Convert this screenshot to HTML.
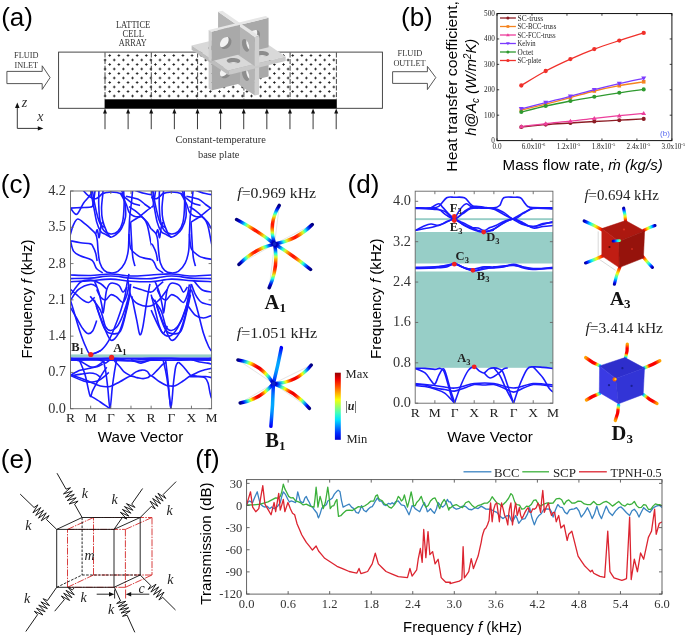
<!DOCTYPE html>
<html><head><meta charset="utf-8"><style>
html,body{margin:0;padding:0;background:#fff;}
body{width:685px;height:637px;overflow:hidden;}
svg{display:block;will-change:transform;}
</style></head><body>
<svg width="685" height="637" viewBox="0 0 685 637">
<rect width="685" height="637" fill="#fff"/>
<text x="1.20" y="25.60" font-family='"Liberation Sans", sans-serif' font-size="26" text-anchor="start" fill="#000" font-weight="normal" font-style="normal" >(a)</text><text x="26.30" y="58.20" font-family='"Liberation Serif", serif' font-size="9.0" text-anchor="middle" fill="#333" font-weight="normal" font-style="normal" textLength="24.4" lengthAdjust="spacingAndGlyphs">FLUID</text><text x="26.30" y="68.20" font-family='"Liberation Serif", serif' font-size="9.0" text-anchor="middle" fill="#333" font-weight="normal" font-style="normal" textLength="23.7" lengthAdjust="spacingAndGlyphs">INLET</text><path d="M6.9,71.4 L42.2,71.4 L42.2,65.8 L50.1,77.6 L42.2,89.4 L42.2,83.6 L6.9,83.6 Z" fill="#fff" stroke="#444" stroke-width="0.9" stroke-linejoin="miter"/><path d="M392.6,71.7 L427.4,71.7 L427.4,66.4 L435.8,77.6 L427.4,89.6 L427.4,83.4 L392.6,83.4 Z" fill="#fff" stroke="#444" stroke-width="0.9" stroke-linejoin="miter"/><text x="409.90" y="55.80" font-family='"Liberation Serif", serif' font-size="9.0" text-anchor="middle" fill="#333" font-weight="normal" font-style="normal" textLength="24.6" lengthAdjust="spacingAndGlyphs">FLUID</text><text x="409.50" y="65.60" font-family='"Liberation Serif", serif' font-size="9.0" text-anchor="middle" fill="#333" font-weight="normal" font-style="normal" textLength="32.2" lengthAdjust="spacingAndGlyphs">OUTLET</text><rect x="58.6" y="52.1" width="323.8" height="56.2" fill="#fff" stroke="#333" stroke-width="0.9"/><path d="M108.35,55.50h2.7M109.70,54.15v2.7M117.50,55.50h2.7M118.85,54.15v2.7M126.65,55.50h2.7M128.00,54.15v2.7M135.80,55.50h2.7M137.15,54.15v2.7M144.95,55.50h2.7M146.30,54.15v2.7M154.10,55.50h2.7M155.45,54.15v2.7M163.25,55.50h2.7M164.60,54.15v2.7M172.40,55.50h2.7M173.75,54.15v2.7M181.55,55.50h2.7M182.90,54.15v2.7M190.70,55.50h2.7M192.05,54.15v2.7M199.85,55.50h2.7M201.20,54.15v2.7M209.00,55.50h2.7M210.35,54.15v2.7M218.15,55.50h2.7M219.50,54.15v2.7M227.30,55.50h2.7M228.65,54.15v2.7M236.45,55.50h2.7M237.80,54.15v2.7M245.60,55.50h2.7M246.95,54.15v2.7M254.75,55.50h2.7M256.10,54.15v2.7M263.90,55.50h2.7M265.25,54.15v2.7M273.05,55.50h2.7M274.40,54.15v2.7M282.20,55.50h2.7M283.55,54.15v2.7M291.35,55.50h2.7M292.70,54.15v2.7M300.50,55.50h2.7M301.85,54.15v2.7M309.65,55.50h2.7M311.00,54.15v2.7M318.80,55.50h2.7M320.15,54.15v2.7M327.95,55.50h2.7M329.30,54.15v2.7M103.75,60.00h2.7M105.10,58.65v2.7M112.90,60.00h2.7M114.25,58.65v2.7M122.05,60.00h2.7M123.40,58.65v2.7M131.20,60.00h2.7M132.55,58.65v2.7M140.35,60.00h2.7M141.70,58.65v2.7M149.50,60.00h2.7M150.85,58.65v2.7M158.65,60.00h2.7M160.00,58.65v2.7M167.80,60.00h2.7M169.15,58.65v2.7M176.95,60.00h2.7M178.30,58.65v2.7M186.10,60.00h2.7M187.45,58.65v2.7M195.25,60.00h2.7M196.60,58.65v2.7M204.40,60.00h2.7M205.75,58.65v2.7M213.55,60.00h2.7M214.90,58.65v2.7M222.70,60.00h2.7M224.05,58.65v2.7M231.85,60.00h2.7M233.20,58.65v2.7M241.00,60.00h2.7M242.35,58.65v2.7M250.15,60.00h2.7M251.50,58.65v2.7M259.30,60.00h2.7M260.65,58.65v2.7M268.45,60.00h2.7M269.80,58.65v2.7M277.60,60.00h2.7M278.95,58.65v2.7M286.75,60.00h2.7M288.10,58.65v2.7M295.90,60.00h2.7M297.25,58.65v2.7M305.05,60.00h2.7M306.40,58.65v2.7M314.20,60.00h2.7M315.55,58.65v2.7M323.35,60.00h2.7M324.70,58.65v2.7M332.50,60.00h2.7M333.85,58.65v2.7M108.35,64.50h2.7M109.70,63.15v2.7M117.50,64.50h2.7M118.85,63.15v2.7M126.65,64.50h2.7M128.00,63.15v2.7M135.80,64.50h2.7M137.15,63.15v2.7M144.95,64.50h2.7M146.30,63.15v2.7M154.10,64.50h2.7M155.45,63.15v2.7M163.25,64.50h2.7M164.60,63.15v2.7M172.40,64.50h2.7M173.75,63.15v2.7M181.55,64.50h2.7M182.90,63.15v2.7M190.70,64.50h2.7M192.05,63.15v2.7M199.85,64.50h2.7M201.20,63.15v2.7M209.00,64.50h2.7M210.35,63.15v2.7M218.15,64.50h2.7M219.50,63.15v2.7M227.30,64.50h2.7M228.65,63.15v2.7M236.45,64.50h2.7M237.80,63.15v2.7M245.60,64.50h2.7M246.95,63.15v2.7M254.75,64.50h2.7M256.10,63.15v2.7M263.90,64.50h2.7M265.25,63.15v2.7M273.05,64.50h2.7M274.40,63.15v2.7M282.20,64.50h2.7M283.55,63.15v2.7M291.35,64.50h2.7M292.70,63.15v2.7M300.50,64.50h2.7M301.85,63.15v2.7M309.65,64.50h2.7M311.00,63.15v2.7M318.80,64.50h2.7M320.15,63.15v2.7M327.95,64.50h2.7M329.30,63.15v2.7M103.75,69.00h2.7M105.10,67.65v2.7M112.90,69.00h2.7M114.25,67.65v2.7M122.05,69.00h2.7M123.40,67.65v2.7M131.20,69.00h2.7M132.55,67.65v2.7M140.35,69.00h2.7M141.70,67.65v2.7M149.50,69.00h2.7M150.85,67.65v2.7M158.65,69.00h2.7M160.00,67.65v2.7M167.80,69.00h2.7M169.15,67.65v2.7M176.95,69.00h2.7M178.30,67.65v2.7M186.10,69.00h2.7M187.45,67.65v2.7M195.25,69.00h2.7M196.60,67.65v2.7M204.40,69.00h2.7M205.75,67.65v2.7M213.55,69.00h2.7M214.90,67.65v2.7M222.70,69.00h2.7M224.05,67.65v2.7M231.85,69.00h2.7M233.20,67.65v2.7M241.00,69.00h2.7M242.35,67.65v2.7M250.15,69.00h2.7M251.50,67.65v2.7M259.30,69.00h2.7M260.65,67.65v2.7M268.45,69.00h2.7M269.80,67.65v2.7M277.60,69.00h2.7M278.95,67.65v2.7M286.75,69.00h2.7M288.10,67.65v2.7M295.90,69.00h2.7M297.25,67.65v2.7M305.05,69.00h2.7M306.40,67.65v2.7M314.20,69.00h2.7M315.55,67.65v2.7M323.35,69.00h2.7M324.70,67.65v2.7M332.50,69.00h2.7M333.85,67.65v2.7M108.35,73.50h2.7M109.70,72.15v2.7M117.50,73.50h2.7M118.85,72.15v2.7M126.65,73.50h2.7M128.00,72.15v2.7M135.80,73.50h2.7M137.15,72.15v2.7M144.95,73.50h2.7M146.30,72.15v2.7M154.10,73.50h2.7M155.45,72.15v2.7M163.25,73.50h2.7M164.60,72.15v2.7M172.40,73.50h2.7M173.75,72.15v2.7M181.55,73.50h2.7M182.90,72.15v2.7M190.70,73.50h2.7M192.05,72.15v2.7M199.85,73.50h2.7M201.20,72.15v2.7M209.00,73.50h2.7M210.35,72.15v2.7M218.15,73.50h2.7M219.50,72.15v2.7M227.30,73.50h2.7M228.65,72.15v2.7M236.45,73.50h2.7M237.80,72.15v2.7M245.60,73.50h2.7M246.95,72.15v2.7M254.75,73.50h2.7M256.10,72.15v2.7M263.90,73.50h2.7M265.25,72.15v2.7M273.05,73.50h2.7M274.40,72.15v2.7M282.20,73.50h2.7M283.55,72.15v2.7M291.35,73.50h2.7M292.70,72.15v2.7M300.50,73.50h2.7M301.85,72.15v2.7M309.65,73.50h2.7M311.00,72.15v2.7M318.80,73.50h2.7M320.15,72.15v2.7M327.95,73.50h2.7M329.30,72.15v2.7M103.75,78.00h2.7M105.10,76.65v2.7M112.90,78.00h2.7M114.25,76.65v2.7M122.05,78.00h2.7M123.40,76.65v2.7M131.20,78.00h2.7M132.55,76.65v2.7M140.35,78.00h2.7M141.70,76.65v2.7M149.50,78.00h2.7M150.85,76.65v2.7M158.65,78.00h2.7M160.00,76.65v2.7M167.80,78.00h2.7M169.15,76.65v2.7M176.95,78.00h2.7M178.30,76.65v2.7M186.10,78.00h2.7M187.45,76.65v2.7M195.25,78.00h2.7M196.60,76.65v2.7M204.40,78.00h2.7M205.75,76.65v2.7M213.55,78.00h2.7M214.90,76.65v2.7M222.70,78.00h2.7M224.05,76.65v2.7M231.85,78.00h2.7M233.20,76.65v2.7M241.00,78.00h2.7M242.35,76.65v2.7M250.15,78.00h2.7M251.50,76.65v2.7M259.30,78.00h2.7M260.65,76.65v2.7M268.45,78.00h2.7M269.80,76.65v2.7M277.60,78.00h2.7M278.95,76.65v2.7M286.75,78.00h2.7M288.10,76.65v2.7M295.90,78.00h2.7M297.25,76.65v2.7M305.05,78.00h2.7M306.40,76.65v2.7M314.20,78.00h2.7M315.55,76.65v2.7M323.35,78.00h2.7M324.70,76.65v2.7M332.50,78.00h2.7M333.85,76.65v2.7M108.35,82.50h2.7M109.70,81.15v2.7M117.50,82.50h2.7M118.85,81.15v2.7M126.65,82.50h2.7M128.00,81.15v2.7M135.80,82.50h2.7M137.15,81.15v2.7M144.95,82.50h2.7M146.30,81.15v2.7M154.10,82.50h2.7M155.45,81.15v2.7M163.25,82.50h2.7M164.60,81.15v2.7M172.40,82.50h2.7M173.75,81.15v2.7M181.55,82.50h2.7M182.90,81.15v2.7M190.70,82.50h2.7M192.05,81.15v2.7M199.85,82.50h2.7M201.20,81.15v2.7M209.00,82.50h2.7M210.35,81.15v2.7M218.15,82.50h2.7M219.50,81.15v2.7M227.30,82.50h2.7M228.65,81.15v2.7M236.45,82.50h2.7M237.80,81.15v2.7M245.60,82.50h2.7M246.95,81.15v2.7M254.75,82.50h2.7M256.10,81.15v2.7M263.90,82.50h2.7M265.25,81.15v2.7M273.05,82.50h2.7M274.40,81.15v2.7M282.20,82.50h2.7M283.55,81.15v2.7M291.35,82.50h2.7M292.70,81.15v2.7M300.50,82.50h2.7M301.85,81.15v2.7M309.65,82.50h2.7M311.00,81.15v2.7M318.80,82.50h2.7M320.15,81.15v2.7M327.95,82.50h2.7M329.30,81.15v2.7M103.75,87.00h2.7M105.10,85.65v2.7M112.90,87.00h2.7M114.25,85.65v2.7M122.05,87.00h2.7M123.40,85.65v2.7M131.20,87.00h2.7M132.55,85.65v2.7M140.35,87.00h2.7M141.70,85.65v2.7M149.50,87.00h2.7M150.85,85.65v2.7M158.65,87.00h2.7M160.00,85.65v2.7M167.80,87.00h2.7M169.15,85.65v2.7M176.95,87.00h2.7M178.30,85.65v2.7M186.10,87.00h2.7M187.45,85.65v2.7M195.25,87.00h2.7M196.60,85.65v2.7M204.40,87.00h2.7M205.75,85.65v2.7M213.55,87.00h2.7M214.90,85.65v2.7M222.70,87.00h2.7M224.05,85.65v2.7M231.85,87.00h2.7M233.20,85.65v2.7M241.00,87.00h2.7M242.35,85.65v2.7M250.15,87.00h2.7M251.50,85.65v2.7M259.30,87.00h2.7M260.65,85.65v2.7M268.45,87.00h2.7M269.80,85.65v2.7M277.60,87.00h2.7M278.95,85.65v2.7M286.75,87.00h2.7M288.10,85.65v2.7M295.90,87.00h2.7M297.25,85.65v2.7M305.05,87.00h2.7M306.40,85.65v2.7M314.20,87.00h2.7M315.55,85.65v2.7M323.35,87.00h2.7M324.70,85.65v2.7M332.50,87.00h2.7M333.85,85.65v2.7M108.35,91.50h2.7M109.70,90.15v2.7M117.50,91.50h2.7M118.85,90.15v2.7M126.65,91.50h2.7M128.00,90.15v2.7M135.80,91.50h2.7M137.15,90.15v2.7M144.95,91.50h2.7M146.30,90.15v2.7M154.10,91.50h2.7M155.45,90.15v2.7M163.25,91.50h2.7M164.60,90.15v2.7M172.40,91.50h2.7M173.75,90.15v2.7M181.55,91.50h2.7M182.90,90.15v2.7M190.70,91.50h2.7M192.05,90.15v2.7M199.85,91.50h2.7M201.20,90.15v2.7M209.00,91.50h2.7M210.35,90.15v2.7M218.15,91.50h2.7M219.50,90.15v2.7M227.30,91.50h2.7M228.65,90.15v2.7M236.45,91.50h2.7M237.80,90.15v2.7M245.60,91.50h2.7M246.95,90.15v2.7M254.75,91.50h2.7M256.10,90.15v2.7M263.90,91.50h2.7M265.25,90.15v2.7M273.05,91.50h2.7M274.40,90.15v2.7M282.20,91.50h2.7M283.55,90.15v2.7M291.35,91.50h2.7M292.70,90.15v2.7M300.50,91.50h2.7M301.85,90.15v2.7M309.65,91.50h2.7M311.00,90.15v2.7M318.80,91.50h2.7M320.15,90.15v2.7M327.95,91.50h2.7M329.30,90.15v2.7M103.75,96.00h2.7M105.10,94.65v2.7M112.90,96.00h2.7M114.25,94.65v2.7M122.05,96.00h2.7M123.40,94.65v2.7M131.20,96.00h2.7M132.55,94.65v2.7M140.35,96.00h2.7M141.70,94.65v2.7M149.50,96.00h2.7M150.85,94.65v2.7M158.65,96.00h2.7M160.00,94.65v2.7M167.80,96.00h2.7M169.15,94.65v2.7M176.95,96.00h2.7M178.30,94.65v2.7M186.10,96.00h2.7M187.45,94.65v2.7M195.25,96.00h2.7M196.60,94.65v2.7M204.40,96.00h2.7M205.75,94.65v2.7M213.55,96.00h2.7M214.90,94.65v2.7M222.70,96.00h2.7M224.05,94.65v2.7M231.85,96.00h2.7M233.20,94.65v2.7M241.00,96.00h2.7M242.35,94.65v2.7M250.15,96.00h2.7M251.50,94.65v2.7M259.30,96.00h2.7M260.65,94.65v2.7M268.45,96.00h2.7M269.80,94.65v2.7M277.60,96.00h2.7M278.95,94.65v2.7M286.75,96.00h2.7M288.10,94.65v2.7M295.90,96.00h2.7M297.25,94.65v2.7M305.05,96.00h2.7M306.40,94.65v2.7M314.20,96.00h2.7M315.55,94.65v2.7M323.35,96.00h2.7M324.70,94.65v2.7M332.50,96.00h2.7M333.85,94.65v2.7" stroke="#111" stroke-width="0.8" fill="none"/><line x1="105.0" y1="52.5" x2="105.0" y2="99.3" stroke="#333" stroke-width="0.9" stroke-dasharray="5,1.6"/><line x1="151.3" y1="52.5" x2="151.3" y2="99.3" stroke="#333" stroke-width="0.9" stroke-dasharray="5,1.6"/><line x1="197.6" y1="52.5" x2="197.6" y2="99.3" stroke="#333" stroke-width="0.9" stroke-dasharray="5,1.6"/><line x1="243.9" y1="52.5" x2="243.9" y2="99.3" stroke="#333" stroke-width="0.9" stroke-dasharray="5,1.6"/><line x1="290.1" y1="52.5" x2="290.1" y2="99.3" stroke="#333" stroke-width="0.9" stroke-dasharray="5,1.6"/><line x1="336.4" y1="52.5" x2="336.4" y2="99.3" stroke="#333" stroke-width="0.9" stroke-dasharray="5,1.6"/><rect x="104.6" y="99.3" width="232.2" height="9.0" fill="#000"/><line x1="105.00" y1="129.2" x2="105.00" y2="112" stroke="#222" stroke-width="0.9"/><path d="M103.00,113.6 L105.00,108.4 L107.00,113.6 Z" fill="#111"/><line x1="128.12" y1="129.2" x2="128.12" y2="112" stroke="#222" stroke-width="0.9"/><path d="M126.12,113.6 L128.12,108.4 L130.12,113.6 Z" fill="#111"/><line x1="151.24" y1="129.2" x2="151.24" y2="112" stroke="#222" stroke-width="0.9"/><path d="M149.24,113.6 L151.24,108.4 L153.24,113.6 Z" fill="#111"/><line x1="174.36" y1="129.2" x2="174.36" y2="112" stroke="#222" stroke-width="0.9"/><path d="M172.36,113.6 L174.36,108.4 L176.36,113.6 Z" fill="#111"/><line x1="197.48" y1="129.2" x2="197.48" y2="112" stroke="#222" stroke-width="0.9"/><path d="M195.48,113.6 L197.48,108.4 L199.48,113.6 Z" fill="#111"/><line x1="220.60" y1="129.2" x2="220.60" y2="112" stroke="#222" stroke-width="0.9"/><path d="M218.60,113.6 L220.60,108.4 L222.60,113.6 Z" fill="#111"/><line x1="243.72" y1="129.2" x2="243.72" y2="112" stroke="#222" stroke-width="0.9"/><path d="M241.72,113.6 L243.72,108.4 L245.72,113.6 Z" fill="#111"/><line x1="266.84" y1="129.2" x2="266.84" y2="112" stroke="#222" stroke-width="0.9"/><path d="M264.84,113.6 L266.84,108.4 L268.84,113.6 Z" fill="#111"/><line x1="289.96" y1="129.2" x2="289.96" y2="112" stroke="#222" stroke-width="0.9"/><path d="M287.96,113.6 L289.96,108.4 L291.96,113.6 Z" fill="#111"/><line x1="313.08" y1="129.2" x2="313.08" y2="112" stroke="#222" stroke-width="0.9"/><path d="M311.08,113.6 L313.08,108.4 L315.08,113.6 Z" fill="#111"/><line x1="336.20" y1="129.2" x2="336.20" y2="112" stroke="#222" stroke-width="0.9"/><path d="M334.20,113.6 L336.20,108.4 L338.20,113.6 Z" fill="#111"/><text x="220.60" y="143.00" font-family='"Liberation Serif", serif' font-size="10.9" text-anchor="middle" fill="#333" font-weight="normal" font-style="normal" textLength="90.4" lengthAdjust="spacingAndGlyphs">Constant-temperature</text><text x="218.70" y="157.50" font-family='"Liberation Serif", serif' font-size="10.9" text-anchor="middle" fill="#333" font-weight="normal" font-style="normal" textLength="41.5" lengthAdjust="spacingAndGlyphs">base plate</text><text x="133.10" y="28.20" font-family='"Liberation Serif", serif' font-size="9.4" text-anchor="middle" fill="#333" font-weight="normal" font-style="normal" textLength="34.4" lengthAdjust="spacingAndGlyphs">LATTICE</text><text x="133.30" y="37.00" font-family='"Liberation Serif", serif' font-size="9.4" text-anchor="middle" fill="#333" font-weight="normal" font-style="normal" textLength="21.4" lengthAdjust="spacingAndGlyphs">CELL</text><text x="132.80" y="46.00" font-family='"Liberation Serif", serif' font-size="9.4" text-anchor="middle" fill="#333" font-weight="normal" font-style="normal" textLength="28" lengthAdjust="spacingAndGlyphs">ARRAY</text><line x1="17.3" y1="128.4" x2="17.3" y2="105.5" stroke="#222" stroke-width="0.9"/><path d="M15.0,108.0 L17.3,102.6 L19.6,108.0 Z" fill="#111"/><line x1="17.3" y1="128.4" x2="40.5" y2="128.4" stroke="#222" stroke-width="0.9"/><path d="M37.8,126.2 L43.4,128.4 L37.8,130.6 Z" fill="#111"/><text x="21.80" y="107.40" font-family='"Liberation Serif", serif' font-size="14" text-anchor="start" fill="#333" font-weight="normal" font-style="italic" >z</text><text x="37.20" y="121.10" font-family='"Liberation Serif", serif' font-size="14" text-anchor="start" fill="#333" font-weight="normal" font-style="italic" >x</text><g><path d="M239.98,54.15 L268.58,47.15 L268.58,76.45 L239.98,83.45 Z" fill="#a9a9a9" stroke="none" stroke-width="0.3" stroke-linejoin="round"/><path d="M260.00,63.90 L259.86,62.63 L259.43,61.49 L258.75,60.55 L257.85,59.84 L256.76,59.41 L255.55,59.27 L254.28,59.44 L253.01,59.89 L251.80,60.62 L250.71,61.59 L249.81,62.74 L249.13,64.01 L248.70,65.36 L248.56,66.70 L248.70,67.96 L249.13,69.10 L249.81,70.04 L250.71,70.75 L251.80,71.18 L253.01,71.32 L254.28,71.16 L255.55,70.70 L256.76,69.97 L257.85,69.00 L258.75,67.85 L259.43,66.58 L259.86,65.23 Z" fill="#8a8a8a" stroke="none" stroke-width="0.3" stroke-linejoin="round"/><clipPath id="h52"><path d="M260.00,63.90 L259.86,62.63 L259.43,61.49 L258.75,60.55 L257.85,59.84 L256.76,59.41 L255.55,59.27 L254.28,59.44 L253.01,59.89 L251.80,60.62 L250.71,61.59 L249.81,62.74 L249.13,64.01 L248.70,65.36 L248.56,66.70 L248.70,67.96 L249.13,69.10 L249.81,70.04 L250.71,70.75 L251.80,71.18 L253.01,71.32 L254.28,71.16 L255.55,70.70 L256.76,69.97 L257.85,69.00 L258.75,67.85 L259.43,66.58 L259.86,65.23 Z"/></clipPath><path d="M257.24,62.01 L257.10,60.74 L256.67,59.60 L255.99,58.66 L255.09,57.95 L254.00,57.52 L252.79,57.38 L251.52,57.55 L250.25,58.00 L249.04,58.73 L247.95,59.70 L247.05,60.85 L246.37,62.12 L245.94,63.47 L245.80,64.81 L245.94,66.07 L246.37,67.21 L247.05,68.15 L247.95,68.86 L249.04,69.29 L250.25,69.43 L251.52,69.27 L252.79,68.81 L254.00,68.08 L255.09,67.11 L255.99,65.96 L256.67,64.69 L257.10,63.34 Z" fill="#f2f2f2" clip-path="url(#h52)"/><path d="M236.45,53.73 L218.05,41.12 L218.05,70.42 L236.45,83.03 Z" fill="#b4b4b4" stroke="none" stroke-width="0.3" stroke-linejoin="round"/><path d="M230.93,64.59 L230.84,63.23 L230.57,61.80 L230.13,60.39 L229.55,59.06 L228.85,57.89 L228.07,56.92 L227.25,56.22 L226.44,55.80 L225.66,55.70 L224.96,55.92 L224.38,56.45 L223.94,57.26 L223.67,58.31 L223.57,59.55 L223.67,60.92 L223.94,62.35 L224.38,63.76 L224.96,65.09 L225.66,66.26 L226.44,67.23 L227.25,67.94 L228.07,68.35 L228.85,68.45 L229.55,68.23 L230.13,67.70 L230.57,66.89 L230.84,65.84 Z" fill="#8e8e8e" stroke="none" stroke-width="0.3" stroke-linejoin="round"/><clipPath id="h56"><path d="M230.93,64.59 L230.84,63.23 L230.57,61.80 L230.13,60.39 L229.55,59.06 L228.85,57.89 L228.07,56.92 L227.25,56.22 L226.44,55.80 L225.66,55.70 L224.96,55.92 L224.38,56.45 L223.94,57.26 L223.67,58.31 L223.57,59.55 L223.67,60.92 L223.94,62.35 L224.38,63.76 L224.96,65.09 L225.66,66.26 L226.44,67.23 L227.25,67.94 L228.07,68.35 L228.85,68.45 L229.55,68.23 L230.13,67.70 L230.57,66.89 L230.84,65.84 Z"/></clipPath><path d="M235.22,63.55 L235.13,62.18 L234.86,60.75 L234.42,59.34 L233.84,58.01 L233.14,56.84 L232.36,55.87 L231.55,55.17 L230.73,54.75 L229.95,54.65 L229.25,54.87 L228.67,55.40 L228.23,56.21 L227.96,57.26 L227.87,58.51 L227.96,59.87 L228.23,61.30 L228.67,62.71 L229.25,64.04 L229.95,65.21 L230.73,66.18 L231.55,66.89 L232.36,67.30 L233.14,67.40 L233.84,67.18 L234.42,66.65 L234.86,65.84 L235.13,64.79 Z" fill="#f2f2f2" clip-path="url(#h56)"/><path d="M236.45,53.73 L254.85,66.33 L254.85,95.62 L236.45,83.03 Z" fill="#b4b4b4" stroke="none" stroke-width="0.3" stroke-linejoin="round"/><path d="M254.85,66.33 L259.14,65.28 L259.14,94.58 L254.85,95.62 Z" fill="#cfcfcf" stroke="none" stroke-width="0.3" stroke-linejoin="round"/><path d="M249.33,77.20 L249.24,75.83 L248.97,74.40 L248.53,72.99 L247.95,71.66 L247.25,70.49 L246.47,69.52 L245.65,68.81 L244.84,68.40 L244.06,68.30 L243.36,68.52 L242.78,69.05 L242.34,69.86 L242.07,70.91 L241.97,72.16 L242.07,73.52 L242.34,74.95 L242.78,76.36 L243.36,77.69 L244.06,78.86 L244.84,79.83 L245.65,80.53 L246.47,80.95 L247.25,81.05 L247.95,80.83 L248.53,80.30 L248.97,79.49 L249.24,78.44 Z" fill="#8e8e8e" stroke="none" stroke-width="0.3" stroke-linejoin="round"/><clipPath id="h61"><path d="M249.33,77.20 L249.24,75.83 L248.97,74.40 L248.53,72.99 L247.95,71.66 L247.25,70.49 L246.47,69.52 L245.65,68.81 L244.84,68.40 L244.06,68.30 L243.36,68.52 L242.78,69.05 L242.34,69.86 L242.07,70.91 L241.97,72.16 L242.07,73.52 L242.34,74.95 L242.78,76.36 L243.36,77.69 L244.06,78.86 L244.84,79.83 L245.65,80.53 L246.47,80.95 L247.25,81.05 L247.95,80.83 L248.53,80.30 L248.97,79.49 L249.24,78.44 Z"/></clipPath><path d="M253.62,76.15 L253.53,74.78 L253.26,73.35 L252.82,71.94 L252.24,70.61 L251.54,69.44 L250.76,68.47 L249.94,67.77 L249.13,67.35 L248.35,67.25 L247.65,67.47 L247.07,68.00 L246.63,68.81 L246.36,69.86 L246.27,71.11 L246.36,72.47 L246.63,73.90 L247.07,75.31 L247.65,76.64 L248.35,77.81 L249.13,78.78 L249.94,79.48 L250.76,79.90 L251.54,80.00 L252.24,79.78 L252.82,79.25 L253.26,78.44 L253.53,77.39 Z" fill="#f2f2f2" clip-path="url(#h61)"/><path d="M239.98,54.15 L211.38,61.15 L211.38,90.45 L239.98,83.45 Z" fill="#a9a9a9" stroke="none" stroke-width="0.3" stroke-linejoin="round"/><path d="M208.62,59.26 L211.38,61.15 L211.38,90.45 L208.62,88.56 Z" fill="#cfcfcf" stroke="none" stroke-width="0.3" stroke-linejoin="round"/><path d="M231.40,70.90 L231.26,69.63 L230.83,68.49 L230.15,67.55 L229.25,66.84 L228.16,66.41 L226.95,66.27 L225.68,66.44 L224.41,66.89 L223.20,67.62 L222.11,68.59 L221.21,69.74 L220.53,71.01 L220.10,72.36 L219.96,73.70 L220.10,74.96 L220.53,76.10 L221.21,77.04 L222.11,77.75 L223.20,78.18 L224.41,78.32 L225.68,78.16 L226.95,77.70 L228.16,76.97 L229.25,76.00 L230.15,74.85 L230.83,73.58 L231.26,72.23 Z" fill="#8a8a8a" stroke="none" stroke-width="0.3" stroke-linejoin="round"/><clipPath id="h66"><path d="M231.40,70.90 L231.26,69.63 L230.83,68.49 L230.15,67.55 L229.25,66.84 L228.16,66.41 L226.95,66.27 L225.68,66.44 L224.41,66.89 L223.20,67.62 L222.11,68.59 L221.21,69.74 L220.53,71.01 L220.10,72.36 L219.96,73.70 L220.10,74.96 L220.53,76.10 L221.21,77.04 L222.11,77.75 L223.20,78.18 L224.41,78.32 L225.68,78.16 L226.95,77.70 L228.16,76.97 L229.25,76.00 L230.15,74.85 L230.83,73.58 L231.26,72.23 Z"/></clipPath><path d="M228.64,69.01 L228.50,67.74 L228.07,66.60 L227.39,65.66 L226.49,64.95 L225.40,64.52 L224.19,64.38 L222.92,64.55 L221.65,65.00 L220.44,65.73 L219.35,66.70 L218.45,67.85 L217.77,69.12 L217.34,70.47 L217.20,71.81 L217.34,73.07 L217.77,74.21 L218.45,75.15 L219.35,75.86 L220.44,76.29 L221.65,76.43 L222.92,76.27 L224.19,75.81 L225.40,75.08 L226.49,74.11 L227.39,72.96 L228.07,71.69 L228.50,70.34 Z" fill="#f2f2f2" clip-path="url(#h66)"/><path d="M238.60,51.00 L267.20,44.00 L248.80,31.40 L220.20,38.40 Z" fill="#d9d9d9" stroke="none" stroke-width="0.3" stroke-linejoin="round"/><path d="M249.42,39.80 L250.10,40.40 L250.45,41.03 L250.47,41.68 L250.14,42.30 L249.50,42.87 L248.56,43.35 L247.38,43.72 L246.01,43.97 L244.53,44.08 L243.01,44.05 L241.52,43.87 L240.14,43.56 L238.94,43.13 L237.98,42.60 L237.30,42.01 L236.95,41.37 L236.93,40.73 L237.26,40.11 L237.90,39.54 L238.84,39.06 L240.02,38.68 L241.39,38.43 L242.87,38.32 L244.39,38.36 L245.88,38.54 L247.26,38.85 L248.46,39.28 Z" fill="#8c8c8c" stroke="none" stroke-width="0.3" stroke-linejoin="round"/><clipPath id="h70"><path d="M249.42,39.80 L250.10,40.40 L250.45,41.03 L250.47,41.68 L250.14,42.30 L249.50,42.87 L248.56,43.35 L247.38,43.72 L246.01,43.97 L244.53,44.08 L243.01,44.05 L241.52,43.87 L240.14,43.56 L238.94,43.13 L237.98,42.60 L237.30,42.01 L236.95,41.37 L236.93,40.73 L237.26,40.11 L237.90,39.54 L238.84,39.06 L240.02,38.68 L241.39,38.43 L242.87,38.32 L244.39,38.36 L245.88,38.54 L247.26,38.85 L248.46,39.28 Z"/></clipPath><path d="M249.42,44.20 L250.10,44.79 L250.45,45.43 L250.47,46.07 L250.14,46.69 L249.50,47.26 L248.56,47.74 L247.38,48.12 L246.01,48.37 L244.53,48.48 L243.01,48.44 L241.52,48.26 L240.14,47.95 L238.94,47.52 L237.98,47.00 L237.30,46.40 L236.95,45.77 L236.93,45.12 L237.26,44.50 L237.90,43.93 L238.84,43.45 L240.02,43.08 L241.39,42.83 L242.87,42.72 L244.39,42.75 L245.88,42.93 L247.26,43.24 L248.46,43.67 Z" fill="#f2f2f2" clip-path="url(#h70)"/><path d="M238.60,51.00 L267.20,44.00 L285.60,56.60 L257.00,63.60 Z" fill="#d9d9d9" stroke="none" stroke-width="0.3" stroke-linejoin="round"/><path d="M257.00,63.60 L285.60,56.60 L285.60,61.00 L257.00,68.00 Z" fill="#c9c9c9" stroke="none" stroke-width="0.3" stroke-linejoin="round"/><path d="M267.82,52.40 L268.50,53.00 L268.85,53.63 L268.87,54.28 L268.54,54.90 L267.90,55.47 L266.96,55.95 L265.78,56.32 L264.41,56.57 L262.93,56.68 L261.41,56.65 L259.92,56.47 L258.54,56.16 L257.34,55.73 L256.38,55.20 L255.70,54.61 L255.35,53.97 L255.33,53.33 L255.66,52.71 L256.30,52.14 L257.24,51.66 L258.42,51.28 L259.79,51.03 L261.27,50.92 L262.79,50.96 L264.28,51.14 L265.66,51.45 L266.86,51.88 Z" fill="#8c8c8c" stroke="none" stroke-width="0.3" stroke-linejoin="round"/><clipPath id="h75"><path d="M267.82,52.40 L268.50,53.00 L268.85,53.63 L268.87,54.28 L268.54,54.90 L267.90,55.47 L266.96,55.95 L265.78,56.32 L264.41,56.57 L262.93,56.68 L261.41,56.65 L259.92,56.47 L258.54,56.16 L257.34,55.73 L256.38,55.20 L255.70,54.61 L255.35,53.97 L255.33,53.33 L255.66,52.71 L256.30,52.14 L257.24,51.66 L258.42,51.28 L259.79,51.03 L261.27,50.92 L262.79,50.96 L264.28,51.14 L265.66,51.45 L266.86,51.88 Z"/></clipPath><path d="M267.82,56.80 L268.50,57.39 L268.85,58.03 L268.87,58.67 L268.54,59.29 L267.90,59.86 L266.96,60.34 L265.78,60.72 L264.41,60.97 L262.93,61.08 L261.41,61.04 L259.92,60.86 L258.54,60.55 L257.34,60.12 L256.38,59.60 L255.70,59.00 L255.35,58.37 L255.33,57.72 L255.66,57.10 L256.30,56.53 L257.24,56.05 L258.42,55.68 L259.79,55.43 L261.27,55.32 L262.79,55.35 L264.28,55.53 L265.66,55.84 L266.86,56.27 Z" fill="#f2f2f2" clip-path="url(#h75)"/><path d="M238.60,51.00 L210.00,58.00 L191.60,45.40 L220.20,38.40 Z" fill="#d9d9d9" stroke="none" stroke-width="0.3" stroke-linejoin="round"/><path d="M210.00,58.00 L191.60,45.40 L191.60,49.80 L210.00,62.40 Z" fill="#bdbdbd" stroke="none" stroke-width="0.3" stroke-linejoin="round"/><path d="M220.82,46.80 L221.50,47.40 L221.85,48.03 L221.87,48.68 L221.54,49.30 L220.90,49.87 L219.96,50.35 L218.78,50.72 L217.41,50.97 L215.93,51.08 L214.41,51.05 L212.92,50.87 L211.54,50.56 L210.34,50.13 L209.38,49.60 L208.70,49.01 L208.35,48.37 L208.33,47.73 L208.66,47.11 L209.30,46.54 L210.24,46.06 L211.42,45.68 L212.79,45.43 L214.27,45.32 L215.79,45.36 L217.28,45.54 L218.66,45.85 L219.86,46.28 Z" fill="#8c8c8c" stroke="none" stroke-width="0.3" stroke-linejoin="round"/><clipPath id="h80"><path d="M220.82,46.80 L221.50,47.40 L221.85,48.03 L221.87,48.68 L221.54,49.30 L220.90,49.87 L219.96,50.35 L218.78,50.72 L217.41,50.97 L215.93,51.08 L214.41,51.05 L212.92,50.87 L211.54,50.56 L210.34,50.13 L209.38,49.60 L208.70,49.01 L208.35,48.37 L208.33,47.73 L208.66,47.11 L209.30,46.54 L210.24,46.06 L211.42,45.68 L212.79,45.43 L214.27,45.32 L215.79,45.36 L217.28,45.54 L218.66,45.85 L219.86,46.28 Z"/></clipPath><path d="M220.82,51.20 L221.50,51.79 L221.85,52.43 L221.87,53.07 L221.54,53.69 L220.90,54.26 L219.96,54.74 L218.78,55.12 L217.41,55.37 L215.93,55.48 L214.41,55.44 L212.92,55.26 L211.54,54.95 L210.34,54.52 L209.38,54.00 L208.70,53.40 L208.35,52.77 L208.33,52.12 L208.66,51.50 L209.30,50.93 L210.24,50.45 L211.42,50.08 L212.79,49.83 L214.27,49.72 L215.79,49.75 L217.28,49.93 L218.66,50.24 L219.86,50.67 Z" fill="#f2f2f2" clip-path="url(#h80)"/><path d="M238.60,51.00 L210.00,58.00 L228.40,70.60 L257.00,63.60 Z" fill="#d9d9d9" stroke="none" stroke-width="0.3" stroke-linejoin="round"/><path d="M210.00,58.00 L228.40,70.60 L228.40,75.00 L210.00,62.40 Z" fill="#bdbdbd" stroke="none" stroke-width="0.3" stroke-linejoin="round"/><path d="M257.00,63.60 L228.40,70.60 L228.40,75.00 L257.00,68.00 Z" fill="#c9c9c9" stroke="none" stroke-width="0.3" stroke-linejoin="round"/><path d="M239.22,59.40 L239.90,60.00 L240.25,60.63 L240.27,61.28 L239.94,61.90 L239.30,62.47 L238.36,62.95 L237.18,63.32 L235.81,63.57 L234.33,63.68 L232.81,63.65 L231.32,63.47 L229.94,63.16 L228.74,62.73 L227.78,62.20 L227.10,61.61 L226.75,60.97 L226.73,60.33 L227.06,59.71 L227.70,59.14 L228.64,58.66 L229.82,58.28 L231.19,58.03 L232.67,57.92 L234.19,57.96 L235.68,58.14 L237.06,58.45 L238.26,58.88 Z" fill="#8c8c8c" stroke="none" stroke-width="0.3" stroke-linejoin="round"/><clipPath id="h86"><path d="M239.22,59.40 L239.90,60.00 L240.25,60.63 L240.27,61.28 L239.94,61.90 L239.30,62.47 L238.36,62.95 L237.18,63.32 L235.81,63.57 L234.33,63.68 L232.81,63.65 L231.32,63.47 L229.94,63.16 L228.74,62.73 L227.78,62.20 L227.10,61.61 L226.75,60.97 L226.73,60.33 L227.06,59.71 L227.70,59.14 L228.64,58.66 L229.82,58.28 L231.19,58.03 L232.67,57.92 L234.19,57.96 L235.68,58.14 L237.06,58.45 L238.26,58.88 Z"/></clipPath><path d="M239.22,63.80 L239.90,64.39 L240.25,65.03 L240.27,65.67 L239.94,66.29 L239.30,66.86 L238.36,67.34 L237.18,67.72 L235.81,67.97 L234.33,68.08 L232.81,68.04 L231.32,67.86 L229.94,67.55 L228.74,67.12 L227.78,66.60 L227.10,66.00 L226.75,65.37 L226.73,64.72 L227.06,64.10 L227.70,63.53 L228.64,63.05 L229.82,62.68 L231.19,62.43 L232.67,62.32 L234.19,62.35 L235.68,62.53 L237.06,62.84 L238.26,63.27 Z" fill="#f2f2f2" clip-path="url(#h86)"/><path d="M239.98,54.15 L268.58,47.15 L268.58,17.85 L239.98,24.85 Z" fill="#a9a9a9" stroke="none" stroke-width="0.3" stroke-linejoin="round"/><path d="M237.22,22.96 L265.82,15.96 L268.58,17.85 L239.98,24.85 Z" fill="#e6e6e6" stroke="none" stroke-width="0.3" stroke-linejoin="round"/><path d="M260.00,34.60 L259.86,33.33 L259.43,32.19 L258.75,31.25 L257.85,30.54 L256.76,30.11 L255.55,29.97 L254.28,30.14 L253.01,30.59 L251.80,31.32 L250.71,32.29 L249.81,33.44 L249.13,34.71 L248.70,36.06 L248.56,37.40 L248.70,38.66 L249.13,39.80 L249.81,40.74 L250.71,41.45 L251.80,41.88 L253.01,42.02 L254.28,41.86 L255.55,41.40 L256.76,40.67 L257.85,39.70 L258.75,38.55 L259.43,37.28 L259.86,35.93 Z" fill="#8a8a8a" stroke="none" stroke-width="0.3" stroke-linejoin="round"/><clipPath id="h91"><path d="M260.00,34.60 L259.86,33.33 L259.43,32.19 L258.75,31.25 L257.85,30.54 L256.76,30.11 L255.55,29.97 L254.28,30.14 L253.01,30.59 L251.80,31.32 L250.71,32.29 L249.81,33.44 L249.13,34.71 L248.70,36.06 L248.56,37.40 L248.70,38.66 L249.13,39.80 L249.81,40.74 L250.71,41.45 L251.80,41.88 L253.01,42.02 L254.28,41.86 L255.55,41.40 L256.76,40.67 L257.85,39.70 L258.75,38.55 L259.43,37.28 L259.86,35.93 Z"/></clipPath><path d="M257.24,32.71 L257.10,31.44 L256.67,30.30 L255.99,29.36 L255.09,28.65 L254.00,28.22 L252.79,28.08 L251.52,28.25 L250.25,28.70 L249.04,29.43 L247.95,30.40 L247.05,31.55 L246.37,32.82 L245.94,34.17 L245.80,35.51 L245.94,36.77 L246.37,37.91 L247.05,38.85 L247.95,39.56 L249.04,39.99 L250.25,40.13 L251.52,39.97 L252.79,39.51 L254.00,38.78 L255.09,37.81 L255.99,36.66 L256.67,35.39 L257.10,34.04 Z" fill="#f2f2f2" clip-path="url(#h91)"/><path d="M236.45,53.73 L218.05,41.12 L218.05,11.82 L236.45,24.43 Z" fill="#b4b4b4" stroke="none" stroke-width="0.3" stroke-linejoin="round"/><path d="M236.45,24.43 L218.05,11.82 L222.34,10.78 L240.75,23.38 Z" fill="#e6e6e6" stroke="none" stroke-width="0.3" stroke-linejoin="round"/><path d="M230.93,35.30 L230.84,33.93 L230.57,32.50 L230.13,31.09 L229.55,29.76 L228.85,28.59 L228.07,27.62 L227.25,26.92 L226.44,26.50 L225.66,26.40 L224.96,26.62 L224.38,27.15 L223.94,27.96 L223.67,29.01 L223.57,30.26 L223.67,31.62 L223.94,33.05 L224.38,34.46 L224.96,35.79 L225.66,36.96 L226.44,37.93 L227.25,38.64 L228.07,39.05 L228.85,39.15 L229.55,38.93 L230.13,38.40 L230.57,37.59 L230.84,36.54 Z" fill="#8e8e8e" stroke="none" stroke-width="0.3" stroke-linejoin="round"/><clipPath id="h96"><path d="M230.93,35.30 L230.84,33.93 L230.57,32.50 L230.13,31.09 L229.55,29.76 L228.85,28.59 L228.07,27.62 L227.25,26.92 L226.44,26.50 L225.66,26.40 L224.96,26.62 L224.38,27.15 L223.94,27.96 L223.67,29.01 L223.57,30.26 L223.67,31.62 L223.94,33.05 L224.38,34.46 L224.96,35.79 L225.66,36.96 L226.44,37.93 L227.25,38.64 L228.07,39.05 L228.85,39.15 L229.55,38.93 L230.13,38.40 L230.57,37.59 L230.84,36.54 Z"/></clipPath><path d="M235.22,34.25 L235.13,32.88 L234.86,31.45 L234.42,30.04 L233.84,28.71 L233.14,27.54 L232.36,26.57 L231.55,25.87 L230.73,25.45 L229.95,25.35 L229.25,25.57 L228.67,26.10 L228.23,26.91 L227.96,27.96 L227.87,29.21 L227.96,30.57 L228.23,32.00 L228.67,33.41 L229.25,34.74 L229.95,35.91 L230.73,36.88 L231.55,37.59 L232.36,38.00 L233.14,38.10 L233.84,37.88 L234.42,37.35 L234.86,36.54 L235.13,35.49 Z" fill="#f2f2f2" clip-path="url(#h96)"/><path d="M236.45,53.73 L254.85,66.33 L254.85,37.03 L236.45,24.43 Z" fill="#b4b4b4" stroke="none" stroke-width="0.3" stroke-linejoin="round"/><path d="M236.45,24.43 L254.85,37.03 L259.14,35.98 L240.75,23.38 Z" fill="#e6e6e6" stroke="none" stroke-width="0.3" stroke-linejoin="round"/><path d="M254.85,66.33 L259.14,65.28 L259.14,35.98 L254.85,37.03 Z" fill="#cfcfcf" stroke="none" stroke-width="0.3" stroke-linejoin="round"/><path d="M249.33,47.90 L249.24,46.53 L248.97,45.10 L248.53,43.69 L247.95,42.36 L247.25,41.19 L246.47,40.22 L245.65,39.52 L244.84,39.10 L244.06,39.00 L243.36,39.22 L242.78,39.75 L242.34,40.56 L242.07,41.61 L241.97,42.86 L242.07,44.22 L242.34,45.65 L242.78,47.06 L243.36,48.39 L244.06,49.56 L244.84,50.53 L245.65,51.23 L246.47,51.65 L247.25,51.75 L247.95,51.53 L248.53,51.00 L248.97,50.19 L249.24,49.14 Z" fill="#8e8e8e" stroke="none" stroke-width="0.3" stroke-linejoin="round"/><clipPath id="h102"><path d="M249.33,47.90 L249.24,46.53 L248.97,45.10 L248.53,43.69 L247.95,42.36 L247.25,41.19 L246.47,40.22 L245.65,39.52 L244.84,39.10 L244.06,39.00 L243.36,39.22 L242.78,39.75 L242.34,40.56 L242.07,41.61 L241.97,42.86 L242.07,44.22 L242.34,45.65 L242.78,47.06 L243.36,48.39 L244.06,49.56 L244.84,50.53 L245.65,51.23 L246.47,51.65 L247.25,51.75 L247.95,51.53 L248.53,51.00 L248.97,50.19 L249.24,49.14 Z"/></clipPath><path d="M253.62,46.85 L253.53,45.48 L253.26,44.05 L252.82,42.64 L252.24,41.31 L251.54,40.14 L250.76,39.17 L249.94,38.47 L249.13,38.05 L248.35,37.95 L247.65,38.17 L247.07,38.70 L246.63,39.51 L246.36,40.56 L246.27,41.81 L246.36,43.17 L246.63,44.60 L247.07,46.01 L247.65,47.34 L248.35,48.51 L249.13,49.48 L249.94,50.19 L250.76,50.60 L251.54,50.70 L252.24,50.48 L252.82,49.95 L253.26,49.14 L253.53,48.09 Z" fill="#f2f2f2" clip-path="url(#h102)"/><path d="M239.98,54.15 L211.38,61.15 L211.38,31.85 L239.98,24.85 Z" fill="#a9a9a9" stroke="none" stroke-width="0.3" stroke-linejoin="round"/><path d="M237.22,22.96 L208.62,29.96 L211.38,31.85 L239.98,24.85 Z" fill="#e6e6e6" stroke="none" stroke-width="0.3" stroke-linejoin="round"/><path d="M208.62,59.26 L211.38,61.15 L211.38,31.85 L208.62,29.96 Z" fill="#cfcfcf" stroke="none" stroke-width="0.3" stroke-linejoin="round"/><path d="M231.40,41.60 L231.26,40.33 L230.83,39.19 L230.15,38.25 L229.25,37.54 L228.16,37.11 L226.95,36.97 L225.68,37.14 L224.41,37.59 L223.20,38.32 L222.11,39.29 L221.21,40.44 L220.53,41.71 L220.10,43.06 L219.96,44.40 L220.10,45.66 L220.53,46.80 L221.21,47.74 L222.11,48.45 L223.20,48.88 L224.41,49.02 L225.68,48.86 L226.95,48.40 L228.16,47.67 L229.25,46.70 L230.15,45.55 L230.83,44.28 L231.26,42.93 Z" fill="#8a8a8a" stroke="none" stroke-width="0.3" stroke-linejoin="round"/><clipPath id="h108"><path d="M231.40,41.60 L231.26,40.33 L230.83,39.19 L230.15,38.25 L229.25,37.54 L228.16,37.11 L226.95,36.97 L225.68,37.14 L224.41,37.59 L223.20,38.32 L222.11,39.29 L221.21,40.44 L220.53,41.71 L220.10,43.06 L219.96,44.40 L220.10,45.66 L220.53,46.80 L221.21,47.74 L222.11,48.45 L223.20,48.88 L224.41,49.02 L225.68,48.86 L226.95,48.40 L228.16,47.67 L229.25,46.70 L230.15,45.55 L230.83,44.28 L231.26,42.93 Z"/></clipPath><path d="M228.64,39.71 L228.50,38.44 L228.07,37.30 L227.39,36.36 L226.49,35.65 L225.40,35.22 L224.19,35.08 L222.92,35.25 L221.65,35.70 L220.44,36.43 L219.35,37.40 L218.45,38.55 L217.77,39.82 L217.34,41.17 L217.20,42.51 L217.34,43.77 L217.77,44.91 L218.45,45.85 L219.35,46.56 L220.44,46.99 L221.65,47.13 L222.92,46.97 L224.19,46.51 L225.40,45.78 L226.49,44.81 L227.39,43.66 L228.07,42.39 L228.50,41.04 Z" fill="#f2f2f2" clip-path="url(#h108)"/></g><text x="401.00" y="26.30" font-family='"Liberation Sans", sans-serif' font-size="26" text-anchor="start" fill="#000" font-weight="normal" font-style="normal" >(b)</text><text transform="translate(457.0,171.7) rotate(-90)" font-family='"Liberation Sans", sans-serif' font-size="15" textLength="170.6" lengthAdjust="spacingAndGlyphs">Heat transfer coefficient,</text><text transform="translate(476.2,135.8) rotate(-90)" font-family='"Liberation Sans", sans-serif' font-size="15" font-style="italic" textLength="97" lengthAdjust="spacingAndGlyphs">h@A<tspan font-size="10" dy="3">c</tspan><tspan dy="-3"> (W/m</tspan><tspan font-size="10" dy="-5">2</tspan><tspan dy="5">K)</tspan></text><rect x="497.0" y="13.55" width="174.90" height="127.05" fill="none" stroke="#111" stroke-width="1"/><text x="494.90" y="143.00" font-family='"Liberation Serif", serif' font-size="7.2" text-anchor="end" fill="#222" font-weight="normal" font-style="normal" >0</text><text x="494.90" y="117.59" font-family='"Liberation Serif", serif' font-size="7.2" text-anchor="end" fill="#222" font-weight="normal" font-style="normal" >100</text><text x="494.90" y="92.18" font-family='"Liberation Serif", serif' font-size="7.2" text-anchor="end" fill="#222" font-weight="normal" font-style="normal" >200</text><text x="494.90" y="66.77" font-family='"Liberation Serif", serif' font-size="7.2" text-anchor="end" fill="#222" font-weight="normal" font-style="normal" >300</text><text x="494.90" y="41.36" font-family='"Liberation Serif", serif' font-size="7.2" text-anchor="end" fill="#222" font-weight="normal" font-style="normal" >400</text><text x="494.90" y="15.95" font-family='"Liberation Serif", serif' font-size="7.2" text-anchor="end" fill="#222" font-weight="normal" font-style="normal" >500</text><path d="M497.0,140.60h2.2M671.9,140.60h-2.2M497.0,115.19h2.2M671.9,115.19h-2.2M497.0,89.78h2.2M671.9,89.78h-2.2M497.0,64.37h2.2M671.9,64.37h-2.2M497.0,38.96h2.2M671.9,38.96h-2.2M497.0,13.55h2.2M671.9,13.55h-2.2M497.00,140.6v-2.2M497.00,13.55v2.2M531.98,140.6v-2.2M531.98,13.55v2.2M566.96,140.6v-2.2M566.96,13.55v2.2M601.94,140.6v-2.2M601.94,13.55v2.2M636.92,140.6v-2.2M636.92,13.55v2.2M671.90,140.6v-2.2M671.90,13.55v2.2" stroke="#111" stroke-width="0.8" fill="none"/><text x="497.00" y="148.60" font-family='"Liberation Serif", serif' font-size="7.2" text-anchor="middle" fill="#222" font-weight="normal" font-style="normal" >0.0</text><text x="533.48" y="148.6" font-family='"Liberation Serif", serif' font-size="7.2" text-anchor="middle" fill="#222">6.0x10<tspan font-size="4.6" dy="-3">-6</tspan></text><text x="568.46" y="148.6" font-family='"Liberation Serif", serif' font-size="7.2" text-anchor="middle" fill="#222">1.2x10<tspan font-size="4.6" dy="-3">-5</tspan></text><text x="603.44" y="148.6" font-family='"Liberation Serif", serif' font-size="7.2" text-anchor="middle" fill="#222">1.8x10<tspan font-size="4.6" dy="-3">-5</tspan></text><text x="638.42" y="148.6" font-family='"Liberation Serif", serif' font-size="7.2" text-anchor="middle" fill="#222">2.4x10<tspan font-size="4.6" dy="-3">-5</tspan></text><text x="673.40" y="148.6" font-family='"Liberation Serif", serif' font-size="7.2" text-anchor="middle" fill="#222">3.0x10<tspan font-size="4.6" dy="-3">-5</tspan></text><text x="502.6" y="169.6" font-family='"Liberation Sans", sans-serif' font-size="14.5" textLength="160.2" lengthAdjust="spacingAndGlyphs">Mass flow rate, <tspan font-style="italic">&#7745; (kg/s)</tspan></text><text x="665.00" y="136.40" font-family='"Liberation Sans", sans-serif' font-size="8" text-anchor="middle" fill="#5b6cf0" font-weight="normal" font-style="normal" >(b)</text><path d="M521.30,127.00 C525.37,126.60 537.52,125.27 545.70,124.60 C553.88,123.93 562.30,123.52 570.40,123.00 C578.50,122.48 586.15,121.97 594.30,121.50 C602.45,121.03 611.07,120.63 619.30,120.20 C627.53,119.77 639.63,119.12 643.70,118.90" stroke="#8c1c24" stroke-width="1.3" fill="none"/><circle cx="521.30" cy="127.00" r="2.04" fill="#8c1c24"/><circle cx="545.70" cy="124.60" r="2.04" fill="#8c1c24"/><circle cx="570.40" cy="123.00" r="2.04" fill="#8c1c24"/><circle cx="594.30" cy="121.50" r="2.04" fill="#8c1c24"/><circle cx="619.30" cy="120.20" r="2.04" fill="#8c1c24"/><circle cx="643.70" cy="118.90" r="2.04" fill="#8c1c24"/><path d="M521.30,110.00 C525.37,109.02 537.52,106.17 545.70,104.10 C553.88,102.03 562.30,99.78 570.40,97.60 C578.50,95.42 586.15,92.98 594.30,91.00 C602.45,89.02 611.07,87.23 619.30,85.70 C627.53,84.17 639.63,82.45 643.70,81.80" stroke="#f5841f" stroke-width="1.3" fill="none"/><rect x="519.50" y="108.20" width="3.60" height="3.60" fill="#f5841f"/><rect x="543.90" y="102.30" width="3.60" height="3.60" fill="#f5841f"/><rect x="568.60" y="95.80" width="3.60" height="3.60" fill="#f5841f"/><rect x="592.50" y="89.20" width="3.60" height="3.60" fill="#f5841f"/><rect x="617.50" y="83.90" width="3.60" height="3.60" fill="#f5841f"/><rect x="641.90" y="80.00" width="3.60" height="3.60" fill="#f5841f"/><path d="M521.30,126.50 C525.37,126.02 537.52,124.48 545.70,123.60 C553.88,122.72 562.30,122.08 570.40,121.20 C578.50,120.32 586.15,119.22 594.30,118.30 C602.45,117.38 611.07,116.53 619.30,115.70 C627.53,114.87 639.63,113.70 643.70,113.30" stroke="#ec3f9c" stroke-width="1.3" fill="none"/><path d="M521.30,124.10 L523.70,128.30 L518.90,128.30 Z" fill="#ec3f9c"/><path d="M545.70,121.20 L548.10,125.40 L543.30,125.40 Z" fill="#ec3f9c"/><path d="M570.40,118.80 L572.80,123.00 L568.00,123.00 Z" fill="#ec3f9c"/><path d="M594.30,115.90 L596.70,120.10 L591.90,120.10 Z" fill="#ec3f9c"/><path d="M619.30,113.30 L621.70,117.50 L616.90,117.50 Z" fill="#ec3f9c"/><path d="M643.70,110.90 L646.10,115.10 L641.30,115.10 Z" fill="#ec3f9c"/><path d="M521.30,108.90 C525.37,107.85 537.52,104.70 545.70,102.60 C553.88,100.50 562.30,98.45 570.40,96.30 C578.50,94.15 586.15,91.82 594.30,89.70 C602.45,87.58 611.07,85.48 619.30,83.60 C627.53,81.72 639.63,79.27 643.70,78.40" stroke="#7c3cff" stroke-width="1.3" fill="none"/><path d="M521.30,111.30 L523.82,107.10 L518.78,107.10 Z" fill="#7c3cff"/><path d="M545.70,105.00 L548.22,100.80 L543.18,100.80 Z" fill="#7c3cff"/><path d="M570.40,98.70 L572.92,94.50 L567.88,94.50 Z" fill="#7c3cff"/><path d="M594.30,92.10 L596.82,87.90 L591.78,87.90 Z" fill="#7c3cff"/><path d="M619.30,86.00 L621.82,81.80 L616.78,81.80 Z" fill="#7c3cff"/><path d="M643.70,80.80 L646.22,76.60 L641.18,76.60 Z" fill="#7c3cff"/><path d="M521.30,112.00 C525.37,111.00 537.52,107.83 545.70,106.00 C553.88,104.17 562.30,102.53 570.40,101.00 C578.50,99.47 586.15,98.17 594.30,96.80 C602.45,95.43 611.07,94.03 619.30,92.80 C627.53,91.57 639.63,89.97 643.70,89.40" stroke="#2f9a2f" stroke-width="1.3" fill="none"/><circle cx="521.30" cy="112.00" r="2.04" fill="#2f9a2f"/><circle cx="545.70" cy="106.00" r="2.04" fill="#2f9a2f"/><circle cx="570.40" cy="101.00" r="2.04" fill="#2f9a2f"/><circle cx="594.30" cy="96.80" r="2.04" fill="#2f9a2f"/><circle cx="619.30" cy="92.80" r="2.04" fill="#2f9a2f"/><circle cx="643.70" cy="89.40" r="2.04" fill="#2f9a2f"/><path d="M521.30,85.50 C525.37,83.08 537.52,75.40 545.70,71.00 C553.88,66.60 562.30,62.75 570.40,59.10 C578.50,55.45 586.15,52.18 594.30,49.10 C602.45,46.02 611.07,43.30 619.30,40.60 C627.53,37.90 639.63,34.18 643.70,32.90" stroke="#f0302a" stroke-width="1.3" fill="none"/><circle cx="521.30" cy="85.50" r="2.16" fill="#f0302a"/><circle cx="545.70" cy="71.00" r="2.16" fill="#f0302a"/><circle cx="570.40" cy="59.10" r="2.16" fill="#f0302a"/><circle cx="594.30" cy="49.10" r="2.16" fill="#f0302a"/><circle cx="619.30" cy="40.60" r="2.16" fill="#f0302a"/><circle cx="643.70" cy="32.90" r="2.16" fill="#f0302a"/><line x1="500.0" y1="18.0" x2="515.9" y2="18.0" stroke="#8c1c24" stroke-width="1.3"/><circle cx="507.90" cy="18.00" r="1.53" fill="#8c1c24"/><text x="517.60" y="20.50" font-family='"Liberation Serif", serif' font-size="7.6" text-anchor="start" fill="#222" font-weight="normal" font-style="normal" textLength="25.6" lengthAdjust="spacingAndGlyphs">SC-truss</text><line x1="500.0" y1="26.5" x2="515.9" y2="26.5" stroke="#f5841f" stroke-width="1.3"/><rect x="506.55" y="25.15" width="2.70" height="2.70" fill="#f5841f"/><text x="517.60" y="29.00" font-family='"Liberation Serif", serif' font-size="7.6" text-anchor="start" fill="#222" font-weight="normal" font-style="normal" textLength="38.7" lengthAdjust="spacingAndGlyphs">SC-BCC-truss</text><line x1="500.0" y1="35.0" x2="515.9" y2="35.0" stroke="#ec3f9c" stroke-width="1.3"/><path d="M507.90,33.20 L509.70,36.35 L506.10,36.35 Z" fill="#ec3f9c"/><text x="517.60" y="37.50" font-family='"Liberation Serif", serif' font-size="7.6" text-anchor="start" fill="#222" font-weight="normal" font-style="normal" textLength="37.9" lengthAdjust="spacingAndGlyphs">SC-FCC-truss</text><line x1="500.0" y1="43.5" x2="515.9" y2="43.5" stroke="#7c3cff" stroke-width="1.3"/><path d="M507.90,45.30 L509.79,42.15 L506.01,42.15 Z" fill="#7c3cff"/><text x="517.60" y="46.00" font-family='"Liberation Serif", serif' font-size="7.6" text-anchor="start" fill="#222" font-weight="normal" font-style="normal" textLength="17.9" lengthAdjust="spacingAndGlyphs">Kelvin</text><line x1="500.0" y1="52.0" x2="515.9" y2="52.0" stroke="#2f9a2f" stroke-width="1.3"/><circle cx="507.90" cy="52.00" r="1.53" fill="#2f9a2f"/><text x="517.60" y="54.50" font-family='"Liberation Serif", serif' font-size="7.6" text-anchor="start" fill="#222" font-weight="normal" font-style="normal" textLength="15.7" lengthAdjust="spacingAndGlyphs">Octet</text><line x1="500.0" y1="60.5" x2="515.9" y2="60.5" stroke="#f0302a" stroke-width="1.3"/><circle cx="507.90" cy="60.50" r="1.62" fill="#f0302a"/><text x="517.60" y="63.00" font-family='"Liberation Serif", serif' font-size="7.6" text-anchor="start" fill="#222" font-weight="normal" font-style="normal" textLength="23.6" lengthAdjust="spacingAndGlyphs">SC-plate</text><text x="0.80" y="192.60" font-family='"Liberation Sans", sans-serif' font-size="26" text-anchor="start" fill="#000" font-weight="normal" font-style="normal" >(c)</text><clipPath id="clipc"><rect x="70.5" y="191.0" width="141.10" height="217.70"/></clipPath><clipPath id="clipc1"><rect x="70.5" y="191.0" width="80.63" height="217.70"/></clipPath><clipPath id="clipc2"><rect x="151.13" y="191.0" width="60.47" height="217.70"/></clipPath><rect x="70.5" y="354.43" width="141.10" height="3.11" fill="#97cec7"/><g clip-path="url(#clipc1)" fill="none" stroke="#1a1aff" stroke-width="1.6" stroke-linejoin="round"><path d="M70.50,208.10 C72.18,208.02 77.22,207.76 80.58,207.59 C83.94,207.41 88.57,207.67 90.66,207.07 C92.74,206.46 92.24,207.50 93.08,203.96 C93.92,200.42 95.26,188.84 95.70,185.82"/><path d="M70.50,208.10 C71.54,209.14 74.57,215.19 76.75,214.32 C78.93,213.46 81.32,206.20 83.60,202.92 C85.89,199.64 88.94,197.48 90.46,194.63 C91.97,191.78 92.30,187.29 92.67,185.82"/><path d="M66.47,248.02 C67.14,245.68 69.36,237.82 70.50,234.02 C71.64,230.22 72.11,227.72 73.32,225.21 C74.53,222.70 75.74,219.16 77.76,218.99 C79.77,218.82 83.17,222.45 85.42,224.17 C87.67,225.90 89.55,227.72 91.26,229.36 C92.98,231.00 94.69,232.12 95.70,234.02 C96.70,235.92 96.91,237.91 97.31,240.76 C97.71,243.61 97.68,247.41 98.12,251.13 C98.55,254.84 98.92,259.85 99.93,263.05 C100.94,266.24 102.38,268.66 104.16,270.31 C105.94,271.95 108.33,272.72 110.61,272.90 C112.90,273.07 115.52,272.98 117.87,271.34 C120.22,269.70 123.01,266.42 124.72,263.05 C126.44,259.68 127.44,255.96 128.15,251.13 C128.85,246.29 128.69,239.72 128.96,234.02 C129.22,228.32 129.33,222.36 129.76,216.92 C130.20,211.47 131.04,206.55 131.58,201.37 C132.11,196.18 132.75,188.41 132.99,185.82"/><path d="M70.50,240.76 C72.18,241.11 77.22,242.31 80.58,242.83 C83.94,243.35 88.57,243.18 90.66,243.87 C92.74,244.56 92.24,245.43 93.08,246.98 C93.92,248.54 95.02,250.87 95.70,253.20 C96.37,255.53 96.87,259.68 97.11,260.98"/><path d="M70.50,240.76 C71.00,242.49 71.91,248.62 73.52,251.13 C75.14,253.63 77.32,254.41 80.18,255.79 C83.03,257.17 88.41,258.30 90.66,259.42 C92.91,260.54 92.67,260.97 93.68,262.53 C94.69,264.08 95.19,267.02 96.70,268.75 C98.22,270.48 101.74,272.21 102.75,272.90"/><path d="M103.36,185.82 C103.26,187.29 103.05,190.91 102.75,194.63 C102.45,198.34 101.58,203.87 101.54,208.10 C101.51,212.34 101.68,216.05 102.55,220.03 C103.42,224.00 105.44,229.10 106.78,231.95 C108.13,234.80 109.07,236.70 110.61,237.13 C112.16,237.56 114.27,235.92 116.06,234.54 C117.84,233.16 119.72,231.78 121.30,228.84 C122.87,225.90 124.96,221.50 125.53,216.92 C126.10,212.34 125.33,205.69 124.72,201.37 C124.12,197.05 122.54,193.59 121.90,191.00 C121.26,188.41 121.06,186.68 120.89,185.82"/><path d="M102.75,193.59 C103.42,193.42 105.44,192.81 106.78,192.56 C108.13,192.30 109.13,192.04 110.81,192.04 C112.49,192.04 115.01,192.21 116.86,192.56 C118.71,192.90 121.06,193.85 121.90,194.11"/><path d="M89.65,185.82 C90.32,189.27 92.50,200.50 93.68,206.55 C94.86,212.60 95.53,217.95 96.70,222.10 C97.88,226.25 99.22,229.36 100.74,231.43 C102.25,233.50 104.10,233.59 105.78,234.54 C107.45,235.49 109.97,236.70 110.81,237.13"/><path d="M91.66,185.82 C92.17,188.84 93.68,198.78 94.69,203.96 C95.70,209.14 96.70,213.46 97.71,216.92 C98.72,220.37 99.56,222.96 100.74,224.69 C101.91,226.42 104.10,226.85 104.77,227.28"/><path d="M95.70,234.02 C95.97,233.33 96.74,229.27 97.31,229.87 C97.88,230.48 98.55,238.08 99.12,237.65 C99.69,237.22 100.20,229.88 100.74,227.28 C101.27,224.69 102.08,222.96 102.35,222.10"/><path d="M99.12,185.82 C99.06,188.84 98.55,198.08 98.72,203.96 C98.89,209.83 99.29,216.66 100.13,221.06 C100.97,225.47 101.98,228.23 103.76,230.39 C105.54,232.55 108.46,233.85 110.81,234.02 C113.17,234.19 115.92,233.42 117.87,231.43 C119.82,229.44 121.46,226.68 122.51,222.10 C123.55,217.52 123.98,210.01 124.12,203.96 C124.25,197.91 123.45,188.84 123.31,185.82"/><path d="M79.57,185.82 C80.91,187.37 84.95,192.99 87.63,195.15 C90.32,197.31 93.18,199.12 95.70,198.78 C98.22,198.43 101.58,194.02 102.75,193.07"/><path d="M119.88,193.07 C120.89,193.94 123.92,196.62 125.93,198.26 C127.95,199.90 129.63,201.71 131.98,202.92 C134.33,204.13 138.70,205.08 140.04,205.51"/><path d="M120.89,194.11 C121.80,195.84 124.86,201.28 126.34,204.48 C127.81,207.67 127.78,211.22 129.76,213.29 C131.74,215.36 135.94,216.92 138.23,216.92 C140.51,216.92 141.45,214.76 143.47,213.29 C145.48,211.82 148.37,209.06 150.32,208.10 C152.27,207.15 154.35,207.67 155.16,207.59"/><path d="M125.93,196.18 C127.98,196.70 135.04,197.91 138.23,199.29 C141.42,200.68 143.07,203.01 145.08,204.48 C147.10,205.95 149.45,207.50 150.32,208.10"/><path d="M130.57,222.10 C131.58,221.50 134.77,219.34 136.62,218.47 C138.46,217.61 139.91,215.88 141.65,216.92 C143.40,217.95 145.52,220.20 147.10,224.69 C148.68,229.18 149.99,239.12 151.13,243.87 C152.27,248.62 153.48,251.65 153.95,253.20"/><path d="M128.96,234.02 C129.29,236.53 129.43,245.43 130.97,249.05 C132.52,252.68 136.15,254.32 138.23,255.79 C140.31,257.26 141.32,257.26 143.47,257.87 C145.62,258.47 149.18,258.99 151.13,259.42 C153.08,259.85 154.49,260.28 155.16,260.46"/><path d="M128.96,206.55 C129.96,207.24 132.99,209.14 135.00,210.70 C137.02,212.25 139.03,213.98 141.05,215.88 C143.07,217.78 145.42,219.94 147.10,222.10 C148.78,224.26 149.78,227.11 151.13,228.84 C152.47,230.57 154.49,231.86 155.16,232.47"/><path d="M129.96,188.41 C131.14,188.84 134.50,190.14 137.02,191.00 C139.54,191.86 142.73,192.99 145.08,193.59 C147.43,194.20 149.45,194.54 151.13,194.63 C152.81,194.71 154.49,194.20 155.16,194.11"/><path d="M130.57,222.10 C130.80,226.42 131.58,241.97 131.98,248.02 C132.38,254.06 132.48,255.36 132.99,258.38 C133.49,261.41 134.67,264.86 135.00,266.16"/><path d="M90.25,296.22 C91.93,298.55 97.81,305.21 100.33,310.22 C102.85,315.23 103.69,322.92 105.37,326.28 C107.05,329.65 108.56,330.26 110.41,330.43 C112.26,330.60 114.44,329.74 116.46,327.32 C118.47,324.90 120.46,321.10 122.51,315.92 C124.55,310.73 127.38,301.58 128.75,296.22 C130.13,290.87 130.43,285.85 130.77,283.78"/><path d="M94.29,299.85 C95.53,303.31 99.06,313.93 101.74,320.58 C104.43,327.24 107.62,337.60 110.41,339.76 C113.20,341.92 116.12,337.43 118.47,333.54 C120.83,329.65 122.67,322.92 124.52,316.44 C126.37,309.96 128.72,298.29 129.56,294.67"/><path d="M96.30,306.07 C97.64,309.78 101.84,323.78 104.36,328.36 C106.88,332.94 108.73,333.11 111.42,333.54 C114.11,333.97 117.97,334.84 120.49,330.95 C123.01,327.06 124.96,316.26 126.54,310.22 C128.12,304.17 129.39,297.26 129.96,294.67"/><path d="M94.69,281.71 C95.36,283.44 97.54,288.19 98.72,292.07 C99.90,295.96 101.00,301.58 101.74,305.03 C102.48,308.49 102.65,313.24 103.15,312.81 C103.66,312.38 104.16,306.33 104.77,302.44 C105.37,298.55 105.77,292.68 106.78,289.48 C107.79,286.29 108.80,283.95 110.81,283.26 C112.83,282.57 116.86,283.87 118.88,285.34 C120.89,286.81 121.56,291.82 122.91,292.07 C124.25,292.33 126.27,287.76 126.94,286.89"/><path d="M96.70,289.48 C97.38,290.78 99.22,295.53 100.74,297.26 C102.25,298.99 104.10,300.28 105.78,299.85 C107.45,299.42 108.97,295.10 110.81,294.67 C112.66,294.23 114.85,295.96 116.86,297.26 C118.88,298.55 121.23,302.87 122.91,302.44 C124.59,302.01 125.93,297.69 126.94,294.67 C127.95,291.64 128.62,286.03 128.96,284.30"/></g><g clip-path="url(#clipc2)" fill="none" stroke="#1a1aff" stroke-width="1.6" stroke-linejoin="round"><path d="M130.97,208.10 C132.65,208.02 137.69,207.76 141.05,207.59 C144.41,207.41 149.05,207.67 151.13,207.07 C153.21,206.46 152.71,207.50 153.55,203.96 C154.39,200.42 155.73,188.84 156.17,185.82"/><path d="M130.97,208.10 C132.01,209.14 135.04,215.19 137.22,214.32 C139.40,213.46 141.79,206.20 144.07,202.92 C146.36,199.64 149.42,197.48 150.93,194.63 C152.44,191.78 152.77,187.29 153.14,185.82"/><path d="M126.94,248.02 C127.61,245.68 129.83,237.82 130.97,234.02 C132.11,230.22 132.58,227.72 133.79,225.21 C135.00,222.70 136.21,219.16 138.23,218.99 C140.24,218.82 143.64,222.45 145.89,224.17 C148.14,225.90 150.02,227.72 151.73,229.36 C153.45,231.00 155.16,232.12 156.17,234.02 C157.18,235.92 157.38,237.91 157.78,240.76 C158.18,243.61 158.15,247.41 158.59,251.13 C159.02,254.84 159.39,259.85 160.40,263.05 C161.41,266.24 162.85,268.66 164.63,270.31 C166.41,271.95 168.80,272.72 171.08,272.90 C173.37,273.07 175.99,272.98 178.34,271.34 C180.69,269.70 183.48,266.42 185.19,263.05 C186.91,259.68 187.92,255.96 188.62,251.13 C189.33,246.29 189.16,239.72 189.43,234.02 C189.70,228.32 189.80,222.36 190.23,216.92 C190.67,211.47 191.51,206.55 192.05,201.37 C192.59,196.18 193.22,188.41 193.46,185.82"/><path d="M130.97,240.76 C132.65,241.11 137.69,242.31 141.05,242.83 C144.41,243.35 149.05,243.18 151.13,243.87 C153.21,244.56 152.71,245.43 153.55,246.98 C154.39,248.54 155.50,250.87 156.17,253.20 C156.84,255.53 157.34,259.68 157.58,260.98"/><path d="M130.97,240.76 C131.48,242.49 132.38,248.62 134.00,251.13 C135.61,253.63 137.79,254.41 140.65,255.79 C143.50,257.17 148.88,258.30 151.13,259.42 C153.38,260.54 153.14,260.97 154.15,262.53 C155.16,264.08 155.66,267.02 157.18,268.75 C158.69,270.48 162.21,272.21 163.22,272.90"/><path d="M163.83,185.82 C163.73,187.29 163.53,190.91 163.22,194.63 C162.92,198.34 162.05,203.87 162.01,208.10 C161.98,212.34 162.15,216.05 163.02,220.03 C163.89,224.00 165.91,229.10 167.25,231.95 C168.60,234.80 169.54,236.70 171.08,237.13 C172.63,237.56 174.75,235.92 176.53,234.54 C178.31,233.16 180.19,231.78 181.77,228.84 C183.35,225.90 185.43,221.50 186.00,216.92 C186.57,212.34 185.80,205.69 185.19,201.37 C184.59,197.05 183.01,193.59 182.37,191.00 C181.73,188.41 181.53,186.68 181.36,185.82"/><path d="M163.22,193.59 C163.89,193.42 165.91,192.81 167.25,192.56 C168.60,192.30 169.61,192.04 171.29,192.04 C172.97,192.04 175.49,192.21 177.33,192.56 C179.18,192.90 181.53,193.85 182.37,194.11"/><path d="M150.12,185.82 C150.79,189.27 152.98,200.50 154.15,206.55 C155.33,212.60 156.00,217.95 157.18,222.10 C158.35,226.25 159.70,229.36 161.21,231.43 C162.72,233.50 164.57,233.59 166.25,234.54 C167.93,235.49 170.45,236.70 171.29,237.13"/><path d="M152.14,185.82 C152.64,188.84 154.15,198.78 155.16,203.96 C156.17,209.14 157.18,213.46 158.18,216.92 C159.19,220.37 160.03,222.96 161.21,224.69 C162.38,226.42 164.57,226.85 165.24,227.28"/><path d="M156.17,234.02 C156.44,233.33 157.21,229.27 157.78,229.87 C158.35,230.48 159.02,238.08 159.59,237.65 C160.17,237.22 160.67,229.88 161.21,227.28 C161.74,224.69 162.55,222.96 162.82,222.10"/><path d="M159.59,185.82 C159.53,188.84 159.02,198.08 159.19,203.96 C159.36,209.83 159.76,216.66 160.60,221.06 C161.44,225.47 162.45,228.23 164.23,230.39 C166.01,232.55 168.93,233.85 171.29,234.02 C173.64,234.19 176.39,233.42 178.34,231.43 C180.29,229.44 181.94,226.68 182.98,222.10 C184.02,217.52 184.46,210.01 184.59,203.96 C184.72,197.91 183.92,188.84 183.78,185.82"/><path d="M140.04,185.82 C141.39,187.37 145.42,192.99 148.10,195.15 C150.79,197.31 153.65,199.12 156.17,198.78 C158.69,198.43 162.05,194.02 163.22,193.07"/><path d="M180.36,193.07 C181.36,193.94 184.39,196.62 186.40,198.26 C188.42,199.90 190.10,201.71 192.45,202.92 C194.80,204.13 199.17,205.08 200.51,205.51"/><path d="M181.36,194.11 C182.27,195.84 185.33,201.28 186.81,204.48 C188.28,207.67 188.25,211.22 190.23,213.29 C192.22,215.36 196.41,216.92 198.70,216.92 C200.98,216.92 201.92,214.76 203.94,213.29 C205.96,211.82 208.85,209.06 210.79,208.10 C212.74,207.15 214.83,207.67 215.63,207.59"/><path d="M186.40,196.18 C188.45,196.70 195.51,197.91 198.70,199.29 C201.89,200.68 203.54,203.01 205.55,204.48 C207.57,205.95 209.92,207.50 210.79,208.10"/><path d="M191.04,222.10 C192.05,221.50 195.24,219.34 197.09,218.47 C198.93,217.61 200.38,215.88 202.13,216.92 C203.87,217.95 205.99,220.20 207.57,224.69 C209.15,229.18 210.46,239.12 211.60,243.87 C212.74,248.62 213.95,251.65 214.42,253.20"/><path d="M189.43,234.02 C189.76,236.53 189.90,245.43 191.44,249.05 C192.99,252.68 196.62,254.32 198.70,255.79 C200.78,257.26 201.79,257.26 203.94,257.87 C206.09,258.47 209.65,258.99 211.60,259.42 C213.55,259.85 214.96,260.28 215.63,260.46"/><path d="M189.43,206.55 C190.44,207.24 193.46,209.14 195.47,210.70 C197.49,212.25 199.51,213.98 201.52,215.88 C203.54,217.78 205.89,219.94 207.57,222.10 C209.25,224.26 210.26,227.11 211.60,228.84 C212.94,230.57 214.96,231.86 215.63,232.47"/><path d="M190.44,188.41 C191.61,188.84 194.97,190.14 197.49,191.00 C200.01,191.86 203.20,192.99 205.55,193.59 C207.90,194.20 209.92,194.54 211.60,194.63 C213.28,194.71 214.96,194.20 215.63,194.11"/><path d="M191.04,222.10 C191.27,226.42 192.05,241.97 192.45,248.02 C192.85,254.06 192.95,255.36 193.46,258.38 C193.96,261.41 195.14,264.86 195.47,266.16"/><path d="M150.73,296.22 C152.41,298.55 158.28,305.21 160.80,310.22 C163.32,315.23 164.16,322.92 165.84,326.28 C167.52,329.65 169.03,330.26 170.88,330.43 C172.73,330.60 174.91,329.74 176.93,327.32 C178.95,324.90 180.93,321.10 182.98,315.92 C185.03,310.73 187.85,301.58 189.23,296.22 C190.60,290.87 190.91,285.85 191.24,283.78"/><path d="M154.76,299.85 C156.00,303.31 159.53,313.93 162.21,320.58 C164.90,327.24 168.09,337.60 170.88,339.76 C173.67,341.92 176.59,337.43 178.95,333.54 C181.30,329.65 183.14,322.92 184.99,316.44 C186.84,309.96 189.19,298.29 190.03,294.67"/><path d="M156.77,306.07 C158.12,309.78 162.32,323.78 164.84,328.36 C167.36,332.94 169.20,333.11 171.89,333.54 C174.58,333.97 178.44,334.84 180.96,330.95 C183.48,327.06 185.43,316.26 187.01,310.22 C188.59,304.17 189.86,297.26 190.44,294.67"/><path d="M155.16,281.71 C155.83,283.44 158.02,288.19 159.19,292.07 C160.37,295.96 161.48,301.58 162.21,305.03 C162.95,308.49 163.12,313.24 163.63,312.81 C164.13,312.38 164.63,306.33 165.24,302.44 C165.84,298.55 166.25,292.68 167.25,289.48 C168.26,286.29 169.27,283.95 171.29,283.26 C173.30,282.57 177.33,283.87 179.35,285.34 C181.36,286.81 182.04,291.82 183.38,292.07 C184.72,292.33 186.74,287.76 187.41,286.89"/><path d="M157.18,289.48 C157.85,290.78 159.70,295.53 161.21,297.26 C162.72,298.99 164.57,300.28 166.25,299.85 C167.93,299.42 169.44,295.10 171.29,294.67 C173.13,294.23 175.32,295.96 177.33,297.26 C179.35,298.55 181.70,302.87 183.38,302.44 C185.06,302.01 186.40,297.69 187.41,294.67 C188.42,291.64 189.09,286.03 189.43,284.30"/></g><g clip-path="url(#clipc)" fill="none" stroke="#1a1aff" stroke-width="1.6" stroke-linejoin="round"><path d="M90.66,354.27 C92.30,353.67 97.54,352.89 100.53,350.65 C103.52,348.40 106.21,344.77 108.60,340.80 C110.98,336.82 112.80,331.90 114.85,326.80 C116.90,321.71 119.21,315.31 120.89,310.22 C122.57,305.12 123.92,300.63 124.92,296.22 C125.93,291.82 126.27,287.50 126.94,283.78 C127.61,280.07 128.62,275.57 128.96,273.93"/><path d="M151.13,310.22 C152.81,313.67 158.18,326.63 161.21,330.95 C164.23,335.27 166.58,336.57 169.27,336.13 C171.96,335.70 174.65,332.68 177.33,328.36 C180.02,324.04 183.38,316.70 185.40,310.22 C187.41,303.74 188.76,292.94 189.43,289.48"/><path d="M70.50,281.71 C73.86,281.54 83.94,281.10 90.66,280.67 C97.38,280.24 104.10,279.03 110.81,279.12 C117.53,279.20 124.25,280.76 130.97,281.19 C137.69,281.62 144.41,282.05 151.13,281.71 C157.85,281.36 164.57,279.29 171.29,279.12 C178.00,278.94 184.72,280.24 191.44,280.67 C198.16,281.10 208.24,281.54 211.60,281.71"/><path d="M70.50,295.19 C72.18,293.03 77.22,284.73 80.58,282.23 C83.94,279.72 87.30,279.89 90.66,280.15 C94.02,280.41 98.05,282.23 100.74,283.78 C103.42,285.34 105.77,288.53 106.78,289.48"/><path d="M70.50,300.37 C71.84,298.55 75.20,292.16 78.56,289.48 C81.92,286.81 87.63,284.73 90.66,284.30 C93.68,283.87 95.70,286.46 96.70,286.89"/><path d="M70.50,289.48 C71.51,290.35 74.53,292.94 76.55,294.67 C78.56,296.39 80.58,298.55 82.59,299.85 C84.61,301.15 86.63,302.87 88.64,302.44 C90.66,302.01 93.68,298.12 94.69,297.26"/><path d="M70.50,300.37 C71.00,302.01 72.01,305.21 73.52,310.22 C75.04,315.23 77.56,324.38 79.57,330.43 C81.59,336.48 83.77,342.53 85.62,346.50 C87.47,350.47 88.17,353.58 90.66,354.27 C93.14,354.97 98.89,351.25 100.53,350.65"/><path d="M70.50,307.62 C71.51,309.35 74.53,314.54 76.55,317.99 C78.56,321.45 80.75,325.77 82.59,328.36 C84.44,330.95 85.95,333.11 87.63,333.54 C89.31,333.97 91.16,333.11 92.67,330.95 C94.18,328.79 96.03,322.31 96.70,320.58"/><path d="M127.95,280.15 C128.45,282.83 129.26,292.25 130.97,296.22 C132.68,300.20 135.00,302.36 138.23,304.00 C141.45,305.64 146.83,306.76 150.32,306.07 C153.82,305.38 156.37,302.61 159.19,299.85 C162.01,297.09 165.91,291.21 167.25,289.48"/><path d="M131.78,296.22 C132.62,300.28 135.47,314.19 136.82,320.58 C138.16,326.98 138.83,333.54 139.84,334.58 C140.85,335.62 141.69,332.50 142.86,326.80 C144.04,321.10 145.72,307.54 146.90,300.37 C148.07,293.20 149.42,286.55 149.92,283.78"/><path d="M132.99,286.89 C134.33,287.32 138.03,288.62 141.05,289.48 C144.07,290.35 148.44,292.51 151.13,292.07 C153.82,291.64 155.16,288.62 157.18,286.89 C159.19,285.16 162.21,282.57 163.22,281.71"/><path d="M151.13,294.67 C151.80,297.26 153.82,305.03 155.16,310.22 C156.50,315.40 157.85,321.88 159.19,325.77 C160.54,329.65 161.88,333.54 163.22,333.54 C164.57,333.54 166.58,327.06 167.25,325.77"/><path d="M191.44,284.30 C192.11,286.03 193.79,291.64 195.47,294.67 C197.15,297.69 198.83,300.71 201.52,302.44 C204.21,304.17 209.92,304.60 211.60,305.03"/><path d="M191.44,289.48 C192.45,292.94 195.47,302.87 197.49,310.22 C199.51,317.56 201.69,327.49 203.54,333.54 C205.38,339.59 207.23,343.56 208.58,346.50 C209.92,349.44 211.10,350.39 211.60,351.16"/><path d="M193.46,280.15 C194.80,281.71 198.50,287.50 201.52,289.48 C204.54,291.47 209.92,291.64 211.60,292.07"/><path d="M187.41,305.03 C188.76,306.76 192.79,313.24 195.47,315.40 C198.16,317.56 200.85,317.99 203.54,317.99 C206.22,317.99 210.26,315.83 211.60,315.40"/><path d="M70.50,274.97 C73.86,275.06 83.94,275.66 90.66,275.49 C97.38,275.32 104.10,273.85 110.81,273.93 C117.53,274.02 124.25,275.83 130.97,276.01 C137.69,276.18 144.41,275.32 151.13,274.97 C157.85,274.62 164.57,273.76 171.29,273.93 C178.00,274.11 184.72,275.83 191.44,276.01 C198.16,276.18 208.24,275.14 211.60,274.97"/><path d="M70.50,278.60 C73.86,278.51 83.94,278.51 90.66,278.08 C97.38,277.65 104.10,276.01 110.81,276.01 C117.53,276.01 124.25,277.65 130.97,278.08 C137.69,278.51 144.41,278.94 151.13,278.60 C157.85,278.25 164.57,276.09 171.29,276.01 C178.00,275.92 184.72,277.65 191.44,278.08 C198.16,278.51 208.24,278.51 211.60,278.60"/><path d="M70.50,375.22 C71.88,375.58 75.57,376.30 78.76,377.39 C81.96,378.48 86.05,380.30 89.65,381.75 C93.24,383.19 96.94,385.27 100.33,386.05 C103.73,386.83 106.75,387.13 110.01,386.41 C113.27,385.69 116.53,383.43 119.88,381.75 C123.24,380.06 127.31,377.00 130.17,376.30 C133.02,375.61 134.87,377.21 137.02,377.60 C139.17,377.99 141.22,378.64 143.07,378.64 C144.91,378.64 146.76,378.08 148.10,377.60 C149.45,377.12 149.21,375.09 151.13,375.79 C153.04,376.48 157.01,380.12 159.59,381.75 C162.18,383.37 164.77,384.81 166.65,385.53 C168.53,386.25 169.37,386.05 170.88,386.05 C172.39,386.05 173.64,386.42 175.72,385.53 C177.80,384.64 180.86,382.33 183.38,380.71 C185.90,379.09 188.35,376.52 190.84,375.79 C193.32,375.05 195.98,376.00 198.30,376.30 C200.61,376.61 203.13,376.52 204.75,377.60 C206.36,378.68 207.06,380.11 207.97,382.78 C208.88,385.46 209.58,391.08 210.19,393.67 C210.79,396.26 211.36,397.56 211.60,398.33"/><path d="M70.50,375.22 C72.08,374.40 76.72,371.50 79.97,370.34 C83.23,369.19 87.26,368.96 90.05,368.27 C92.84,367.58 94.59,367.23 96.70,366.20 C98.82,365.16 101.74,362.74 102.75,362.05"/><path d="M130.17,376.30 C131.14,375.57 134.03,372.94 136.01,371.90 C137.99,370.86 140.21,370.17 142.06,370.08 C143.91,370.00 145.59,370.43 147.10,371.38 C148.61,372.33 149.38,376.04 151.13,375.79 C152.88,375.53 155.60,371.77 157.58,369.82 C159.56,367.88 161.58,365.33 163.02,364.12 C164.47,362.91 165.71,362.83 166.25,362.57"/><path d="M190.84,375.79 C192.08,375.14 195.98,372.89 198.30,371.90 C200.61,370.90 202.83,370.34 204.75,369.82 C206.66,369.31 208.64,369.05 209.79,368.79 C210.93,368.53 211.30,368.36 211.60,368.27"/><path d="M70.70,375.79 C72.41,375.51 77.82,374.60 80.98,374.13 C84.14,373.65 87.13,372.94 89.65,372.94 C92.17,372.94 94.25,373.35 96.10,374.13 C97.95,374.90 99.96,377.02 100.74,377.60"/><path d="M70.70,375.22 C71.34,375.58 72.28,376.39 74.53,377.39 C76.78,378.39 81.62,380.42 84.21,381.23 C86.79,382.04 87.73,382.35 90.05,382.26 C92.37,382.18 95.70,381.70 98.12,380.71 C100.53,379.72 102.79,377.69 104.57,376.30 C106.35,374.92 108.09,373.06 108.80,372.42"/><path d="M79.77,361.01 C80.68,363.38 83.50,369.43 85.21,375.22 C86.93,381.00 88.81,393.18 90.05,395.74 C91.30,398.30 91.33,393.06 92.67,390.56 C94.02,388.05 96.30,383.82 98.12,380.71 C99.93,377.60 102.11,374.14 103.56,371.90 C105.00,369.65 106.25,368.01 106.78,367.23"/><path d="M90.05,395.74 C91.77,396.78 97.01,399.80 100.33,401.96 C103.66,404.12 108.40,407.58 110.01,408.70"/><path d="M103.56,361.01 C103.93,362.83 105.07,367.41 105.78,371.90 C106.48,376.39 107.09,381.83 107.79,387.97 C108.50,394.10 109.27,408.70 110.01,408.70 C110.75,408.70 111.49,394.10 112.23,387.97 C112.96,381.83 113.74,376.39 114.44,371.90 C115.15,367.41 116.12,362.83 116.46,361.01"/><path d="M165.64,360.50 C166.08,364.21 167.39,374.75 168.26,382.78 C169.14,390.82 170.01,408.70 170.88,408.70 C171.76,408.70 172.70,389.78 173.50,382.78 C174.31,375.79 174.91,370.17 175.72,366.71 C176.53,363.26 177.90,362.83 178.34,362.05"/><path d="M163.22,360.50 C163.83,363.35 165.57,369.57 166.85,377.60 C168.13,385.63 170.21,403.52 170.88,408.70"/><path d="M178.34,362.05 C179.18,362.83 181.83,365.07 183.38,366.71 C184.93,368.36 186.37,370.39 187.61,371.90 C188.86,373.41 190.30,375.14 190.84,375.79"/><path d="M114.44,361.01 C115.35,361.96 118.27,364.90 119.88,366.71 C121.50,368.53 122.40,370.43 124.12,371.90 C125.83,373.37 129.16,374.92 130.17,375.53"/><path d="M96.91,358.94 C97.81,359.29 100.87,360.32 102.35,361.01 C103.83,361.70 104.67,363.17 105.78,363.09 C106.88,363.00 107.76,361.19 109.00,360.50 C110.24,359.80 112.53,359.20 113.23,358.94"/><path d="M70.70,359.46 C72.21,359.72 76.55,359.80 79.77,361.01 C83.00,362.22 87.16,365.76 90.05,366.71 C92.94,367.67 94.99,367.15 97.11,366.71 C99.22,366.28 101.81,364.56 102.75,364.12"/><path d="M130.97,359.46 C131.98,359.89 135.34,361.45 137.02,362.05 C138.70,362.65 139.54,363.17 141.05,363.09 C142.56,363.00 144.41,362.14 146.09,361.53 C147.77,360.93 150.29,359.80 151.13,359.46"/><path d="M191.44,359.46 C192.79,359.89 196.82,361.45 199.51,362.05 C202.19,362.65 205.55,362.74 207.57,363.09 C209.58,363.43 210.93,363.95 211.60,364.12"/><path d="M189.43,376.56 C190.77,376.61 194.80,376.82 197.49,376.82 C200.18,376.82 203.20,376.43 205.55,376.56 C207.90,376.69 210.59,377.43 211.60,377.60"/><path d="M70.50,359.20 C73.86,359.24 83.94,359.50 90.66,359.46 C97.38,359.42 104.10,358.85 110.81,358.94 C117.53,359.03 124.25,359.93 130.97,359.98 C137.69,360.02 144.41,359.37 151.13,359.20 C157.85,359.03 164.57,358.90 171.29,358.94 C178.00,358.98 184.72,359.42 191.44,359.46 C198.16,359.50 208.24,359.24 211.60,359.20"/><path d="M70.50,360.24 C73.86,360.19 83.94,359.98 90.66,359.98 C97.38,359.98 104.10,360.06 110.81,360.24 C117.53,360.41 125.93,360.80 130.97,361.01 C136.01,361.23 137.69,361.66 141.05,361.53 C144.41,361.40 146.09,360.45 151.13,360.24 C156.17,360.02 164.57,360.28 171.29,360.24 C178.00,360.19 184.72,359.98 191.44,359.98 C198.16,359.98 208.24,360.19 211.60,360.24"/><path d="M70.50,358.16 C73.86,358.21 83.94,358.42 90.66,358.42 C97.38,358.42 104.10,358.16 110.81,358.16 C117.53,358.16 124.25,358.42 130.97,358.42 C137.69,358.42 144.41,358.21 151.13,358.16 C157.85,358.12 164.57,358.12 171.29,358.16 C178.00,358.21 184.72,358.42 191.44,358.42 C198.16,358.42 208.24,358.21 211.60,358.16"/></g><rect x="70.5" y="191.0" width="141.10" height="217.70" fill="none" stroke="#666" stroke-width="0.9"/><text x="66.00" y="412.70" font-family='"Liberation Serif", serif' font-size="14.3" text-anchor="end" fill="#333" font-weight="normal" font-style="normal" >0.0</text><text x="66.00" y="376.42" font-family='"Liberation Serif", serif' font-size="14.3" text-anchor="end" fill="#333" font-weight="normal" font-style="normal" >0.7</text><text x="66.00" y="340.13" font-family='"Liberation Serif", serif' font-size="14.3" text-anchor="end" fill="#333" font-weight="normal" font-style="normal" >1.4</text><text x="66.00" y="303.85" font-family='"Liberation Serif", serif' font-size="14.3" text-anchor="end" fill="#333" font-weight="normal" font-style="normal" >2.1</text><text x="66.00" y="267.57" font-family='"Liberation Serif", serif' font-size="14.3" text-anchor="end" fill="#333" font-weight="normal" font-style="normal" >2.8</text><text x="66.00" y="231.28" font-family='"Liberation Serif", serif' font-size="14.3" text-anchor="end" fill="#333" font-weight="normal" font-style="normal" >3.5</text><text x="66.00" y="195.00" font-family='"Liberation Serif", serif' font-size="14.3" text-anchor="end" fill="#333" font-weight="normal" font-style="normal" >4.2</text><path d="M90.66,408.7v-3M90.66,191.0v3M110.81,408.7v-3M110.81,191.0v3M130.97,408.7v-3M130.97,191.0v3M151.13,408.7v-3M151.13,191.0v3M171.29,408.7v-3M171.29,191.0v3M191.44,408.7v-3M191.44,191.0v3M70.5,408.70h3M211.6,408.70h-3M70.5,372.42h3M211.6,372.42h-3M70.5,336.13h3M211.6,336.13h-3M70.5,299.85h3M211.6,299.85h-3M70.5,263.57h3M211.6,263.57h-3M70.5,227.28h3M211.6,227.28h-3M70.5,191.00h3M211.6,191.00h-3" stroke="#666" stroke-width="0.9" fill="none"/><text x="70.50" y="422.40" font-family='"Liberation Serif", serif' font-size="13.5" text-anchor="middle" fill="#222" font-weight="normal" font-style="normal" >R</text><text x="90.66" y="422.40" font-family='"Liberation Serif", serif' font-size="13.5" text-anchor="middle" fill="#222" font-weight="normal" font-style="normal" >M</text><text x="110.81" y="422.40" font-family='"Liberation Serif", serif' font-size="13.5" text-anchor="middle" fill="#222" font-weight="normal" font-style="normal" >&#915;</text><text x="130.97" y="422.40" font-family='"Liberation Serif", serif' font-size="13.5" text-anchor="middle" fill="#222" font-weight="normal" font-style="normal" >X</text><text x="151.13" y="422.40" font-family='"Liberation Serif", serif' font-size="13.5" text-anchor="middle" fill="#222" font-weight="normal" font-style="normal" >R</text><text x="171.29" y="422.40" font-family='"Liberation Serif", serif' font-size="13.5" text-anchor="middle" fill="#222" font-weight="normal" font-style="normal" >&#915;</text><text x="191.44" y="422.40" font-family='"Liberation Serif", serif' font-size="13.5" text-anchor="middle" fill="#222" font-weight="normal" font-style="normal" >X</text><text x="211.60" y="422.40" font-family='"Liberation Serif", serif' font-size="13.5" text-anchor="middle" fill="#222" font-weight="normal" font-style="normal" >M</text><text x="140.5" y="442.2" font-family='"Liberation Sans", sans-serif' font-size="15" text-anchor="middle" textLength="85.6" lengthAdjust="spacingAndGlyphs">Wave Vector</text><text transform="translate(32.3,299) rotate(-90)" font-family='"Liberation Sans", sans-serif' font-size="15" text-anchor="middle" textLength="119" lengthAdjust="spacingAndGlyphs">Frequency <tspan font-style="italic">f</tspan> (kHz)</text><circle cx="90.8" cy="354.5" r="2.6" fill="#f02020"/><circle cx="111.6" cy="357.4" r="2.6" fill="#f02020"/><text x="71.2" y="351.4" font-family='"Liberation Serif", serif' font-size="12.5" font-weight="bold" fill="#222">B<tspan font-size="8.5" dy="2.2">1</tspan></text><text x="113.2" y="352.4" font-family='"Liberation Serif", serif' font-size="12.5" font-weight="bold" fill="#222">A<tspan font-size="8.5" dy="2.2">1</tspan></text><line x1="274.6" y1="244.0" x2="279.3" y2="205.4" stroke="#dadada" stroke-width="0.7"/><line x1="274.6" y1="244.0" x2="236.6" y2="219.5" stroke="#dadada" stroke-width="0.7"/><line x1="274.6" y1="244.0" x2="312.3" y2="224.6" stroke="#dadada" stroke-width="0.7"/><line x1="274.6" y1="244.0" x2="239.0" y2="264.4" stroke="#dadada" stroke-width="0.7"/><line x1="274.6" y1="244.0" x2="310.6" y2="269.5" stroke="#dadada" stroke-width="0.7"/><line x1="274.6" y1="244.0" x2="269.2" y2="287.7" stroke="#dadada" stroke-width="0.7"/><linearGradient id="g1" gradientUnits="userSpaceOnUse" x1="274.60" y1="244.00" x2="279.30" y2="205.40"><stop offset="0.000" stop-color="#00007f"/><stop offset="0.071" stop-color="#0000ce"/><stop offset="0.143" stop-color="#0067ff"/><stop offset="0.214" stop-color="#1dffe1"/><stop offset="0.286" stop-color="#d1ff2d"/><stop offset="0.357" stop-color="#ff9600"/><stop offset="0.429" stop-color="#ff3200"/><stop offset="0.500" stop-color="#ff0f00"/><stop offset="0.571" stop-color="#ff3200"/><stop offset="0.643" stop-color="#ff9600"/><stop offset="0.714" stop-color="#d1ff2d"/><stop offset="0.786" stop-color="#1dffe1"/><stop offset="0.857" stop-color="#0067ff"/><stop offset="0.929" stop-color="#0000ce"/><stop offset="1.000" stop-color="#00007f"/></linearGradient><path d="M274.60,244.00 Q268.02,223.61 279.30,205.40" stroke="url(#g1)" stroke-width="3.5" stroke-linecap="round" fill="none" opacity="1.0"/><linearGradient id="g2" gradientUnits="userSpaceOnUse" x1="274.60" y1="244.00" x2="236.60" y2="219.50"><stop offset="0.000" stop-color="#00007f"/><stop offset="0.071" stop-color="#0000ce"/><stop offset="0.143" stop-color="#0067ff"/><stop offset="0.214" stop-color="#1dffe1"/><stop offset="0.286" stop-color="#d1ff2d"/><stop offset="0.357" stop-color="#ff9600"/><stop offset="0.429" stop-color="#ff3200"/><stop offset="0.500" stop-color="#ff0f00"/><stop offset="0.571" stop-color="#ff3200"/><stop offset="0.643" stop-color="#ff9600"/><stop offset="0.714" stop-color="#d1ff2d"/><stop offset="0.786" stop-color="#1dffe1"/><stop offset="0.857" stop-color="#0067ff"/><stop offset="0.929" stop-color="#0000ce"/><stop offset="1.000" stop-color="#00007f"/></linearGradient><path d="M274.60,244.00 Q256.68,230.07 236.60,219.50" stroke="url(#g2)" stroke-width="3.5" stroke-linecap="round" fill="none" opacity="1.0"/><linearGradient id="g3" gradientUnits="userSpaceOnUse" x1="274.60" y1="244.00" x2="312.30" y2="224.60"><stop offset="0.000" stop-color="#00007f"/><stop offset="0.071" stop-color="#0000ce"/><stop offset="0.143" stop-color="#0067ff"/><stop offset="0.214" stop-color="#1dffe1"/><stop offset="0.286" stop-color="#d1ff2d"/><stop offset="0.357" stop-color="#ff9600"/><stop offset="0.429" stop-color="#ff3200"/><stop offset="0.500" stop-color="#ff0f00"/><stop offset="0.571" stop-color="#ff3200"/><stop offset="0.643" stop-color="#ff9600"/><stop offset="0.714" stop-color="#d1ff2d"/><stop offset="0.786" stop-color="#1dffe1"/><stop offset="0.857" stop-color="#0067ff"/><stop offset="0.929" stop-color="#0000ce"/><stop offset="1.000" stop-color="#00007f"/></linearGradient><path d="M274.60,244.00 Q296.65,240.52 312.30,224.60" stroke="url(#g3)" stroke-width="3.5" stroke-linecap="round" fill="none" opacity="1.0"/><linearGradient id="g4" gradientUnits="userSpaceOnUse" x1="274.60" y1="244.00" x2="239.00" y2="264.40"><stop offset="0.000" stop-color="#00007f"/><stop offset="0.071" stop-color="#0000ce"/><stop offset="0.143" stop-color="#0067ff"/><stop offset="0.214" stop-color="#1dffe1"/><stop offset="0.286" stop-color="#d1ff2d"/><stop offset="0.357" stop-color="#ff9600"/><stop offset="0.429" stop-color="#ff3200"/><stop offset="0.500" stop-color="#ff0f00"/><stop offset="0.571" stop-color="#ff3200"/><stop offset="0.643" stop-color="#ff9600"/><stop offset="0.714" stop-color="#d1ff2d"/><stop offset="0.786" stop-color="#1dffe1"/><stop offset="0.857" stop-color="#0067ff"/><stop offset="0.929" stop-color="#0000ce"/><stop offset="1.000" stop-color="#00007f"/></linearGradient><path d="M274.60,244.00 Q253.82,248.99 239.00,264.40" stroke="url(#g4)" stroke-width="3.5" stroke-linecap="round" fill="none" opacity="1.0"/><linearGradient id="g5" gradientUnits="userSpaceOnUse" x1="274.60" y1="244.00" x2="310.60" y2="269.50"><stop offset="0.000" stop-color="#00007f"/><stop offset="0.071" stop-color="#0000ce"/><stop offset="0.143" stop-color="#0067ff"/><stop offset="0.214" stop-color="#1dffe1"/><stop offset="0.286" stop-color="#d1ff2d"/><stop offset="0.357" stop-color="#ff9600"/><stop offset="0.429" stop-color="#ff3200"/><stop offset="0.500" stop-color="#ff0f00"/><stop offset="0.571" stop-color="#ff3200"/><stop offset="0.643" stop-color="#ff9600"/><stop offset="0.714" stop-color="#d1ff2d"/><stop offset="0.786" stop-color="#1dffe1"/><stop offset="0.857" stop-color="#0067ff"/><stop offset="0.929" stop-color="#0000ce"/><stop offset="1.000" stop-color="#00007f"/></linearGradient><path d="M274.60,244.00 Q293.47,255.53 310.60,269.50" stroke="url(#g5)" stroke-width="3.5" stroke-linecap="round" fill="none" opacity="1.0"/><linearGradient id="g6" gradientUnits="userSpaceOnUse" x1="274.60" y1="244.00" x2="269.20" y2="287.70"><stop offset="0.000" stop-color="#00007f"/><stop offset="0.071" stop-color="#0000ce"/><stop offset="0.143" stop-color="#0067ff"/><stop offset="0.214" stop-color="#1dffe1"/><stop offset="0.286" stop-color="#d1ff2d"/><stop offset="0.357" stop-color="#ff9600"/><stop offset="0.429" stop-color="#ff3200"/><stop offset="0.500" stop-color="#ff0f00"/><stop offset="0.571" stop-color="#ff3200"/><stop offset="0.643" stop-color="#ff9600"/><stop offset="0.714" stop-color="#d1ff2d"/><stop offset="0.786" stop-color="#1dffe1"/><stop offset="0.857" stop-color="#0067ff"/><stop offset="0.929" stop-color="#0000ce"/><stop offset="1.000" stop-color="#00007f"/></linearGradient><path d="M274.60,244.00 Q278.85,266.71 269.20,287.70" stroke="url(#g6)" stroke-width="3.5" stroke-linecap="round" fill="none" opacity="1.0"/><line x1="273.4" y1="383.6" x2="281.4" y2="347.6" stroke="#dadada" stroke-width="0.7"/><line x1="273.4" y1="383.6" x2="237.9" y2="359.9" stroke="#dadada" stroke-width="0.7"/><line x1="273.4" y1="383.6" x2="311.3" y2="365.0" stroke="#dadada" stroke-width="0.7"/><line x1="273.4" y1="383.6" x2="240.2" y2="403.0" stroke="#dadada" stroke-width="0.7"/><line x1="273.4" y1="383.6" x2="309.4" y2="408.3" stroke="#dadada" stroke-width="0.7"/><line x1="273.4" y1="383.6" x2="270.9" y2="426.3" stroke="#dadada" stroke-width="0.7"/><linearGradient id="g7" gradientUnits="userSpaceOnUse" x1="273.40" y1="383.60" x2="281.40" y2="347.60"><stop offset="0.000" stop-color="#0000f9"/><stop offset="0.071" stop-color="#0021ff"/><stop offset="0.143" stop-color="#0046ff"/><stop offset="0.214" stop-color="#0067ff"/><stop offset="0.286" stop-color="#0082ff"/><stop offset="0.357" stop-color="#0097ff"/><stop offset="0.429" stop-color="#00a3ff"/><stop offset="0.500" stop-color="#00a8ff"/><stop offset="0.571" stop-color="#00a3ff"/><stop offset="0.643" stop-color="#0097ff"/><stop offset="0.714" stop-color="#0082ff"/><stop offset="0.786" stop-color="#0067ff"/><stop offset="0.857" stop-color="#0046ff"/><stop offset="0.929" stop-color="#0021ff"/><stop offset="1.000" stop-color="#0000f9"/></linearGradient><path d="M273.40,383.60 Q277.89,365.71 281.40,347.60" stroke="url(#g7)" stroke-width="3.5" stroke-linecap="round" fill="none" opacity="1.0"/><linearGradient id="g8" gradientUnits="userSpaceOnUse" x1="273.40" y1="383.60" x2="237.90" y2="359.90"><stop offset="0.000" stop-color="#00007f"/><stop offset="0.071" stop-color="#0000df"/><stop offset="0.143" stop-color="#0086ff"/><stop offset="0.214" stop-color="#45ffb9"/><stop offset="0.286" stop-color="#fcff02"/><stop offset="0.357" stop-color="#ff6b00"/><stop offset="0.429" stop-color="#ff0800"/><stop offset="0.500" stop-color="#e50000"/><stop offset="0.571" stop-color="#ff0800"/><stop offset="0.643" stop-color="#ff6b00"/><stop offset="0.714" stop-color="#fcff02"/><stop offset="0.786" stop-color="#45ffb9"/><stop offset="0.857" stop-color="#0086ff"/><stop offset="0.929" stop-color="#0000df"/><stop offset="1.000" stop-color="#00007f"/></linearGradient><path d="M273.40,383.60 Q261.20,363.43 237.90,359.90" stroke="url(#g8)" stroke-width="3.5" stroke-linecap="round" fill="none" opacity="1.0"/><linearGradient id="g9" gradientUnits="userSpaceOnUse" x1="273.40" y1="383.60" x2="311.30" y2="365.00"><stop offset="0.000" stop-color="#00007f"/><stop offset="0.071" stop-color="#0000df"/><stop offset="0.143" stop-color="#0086ff"/><stop offset="0.214" stop-color="#45ffb9"/><stop offset="0.286" stop-color="#fcff02"/><stop offset="0.357" stop-color="#ff6b00"/><stop offset="0.429" stop-color="#ff0800"/><stop offset="0.500" stop-color="#e50000"/><stop offset="0.571" stop-color="#ff0800"/><stop offset="0.643" stop-color="#ff6b00"/><stop offset="0.714" stop-color="#fcff02"/><stop offset="0.786" stop-color="#45ffb9"/><stop offset="0.857" stop-color="#0086ff"/><stop offset="0.929" stop-color="#0000df"/><stop offset="1.000" stop-color="#00007f"/></linearGradient><path d="M273.40,383.60 Q296.76,383.28 311.30,365.00" stroke="url(#g9)" stroke-width="3.5" stroke-linecap="round" fill="none" opacity="1.0"/><linearGradient id="g10" gradientUnits="userSpaceOnUse" x1="273.40" y1="383.60" x2="240.20" y2="403.00"><stop offset="0.000" stop-color="#00007f"/><stop offset="0.071" stop-color="#0000df"/><stop offset="0.143" stop-color="#0086ff"/><stop offset="0.214" stop-color="#45ffb9"/><stop offset="0.286" stop-color="#fcff02"/><stop offset="0.357" stop-color="#ff6b00"/><stop offset="0.429" stop-color="#ff0800"/><stop offset="0.500" stop-color="#e50000"/><stop offset="0.571" stop-color="#ff0800"/><stop offset="0.643" stop-color="#ff6b00"/><stop offset="0.714" stop-color="#fcff02"/><stop offset="0.786" stop-color="#45ffb9"/><stop offset="0.857" stop-color="#0086ff"/><stop offset="0.929" stop-color="#0000df"/><stop offset="1.000" stop-color="#00007f"/></linearGradient><path d="M273.40,383.60 Q260.33,399.34 240.20,403.00" stroke="url(#g10)" stroke-width="3.5" stroke-linecap="round" fill="none" opacity="1.0"/><linearGradient id="g11" gradientUnits="userSpaceOnUse" x1="273.40" y1="383.60" x2="309.40" y2="408.30"><stop offset="0.000" stop-color="#00007f"/><stop offset="0.071" stop-color="#0000df"/><stop offset="0.143" stop-color="#0086ff"/><stop offset="0.214" stop-color="#45ffb9"/><stop offset="0.286" stop-color="#fcff02"/><stop offset="0.357" stop-color="#ff6b00"/><stop offset="0.429" stop-color="#ff0800"/><stop offset="0.500" stop-color="#e50000"/><stop offset="0.571" stop-color="#ff0800"/><stop offset="0.643" stop-color="#ff6b00"/><stop offset="0.714" stop-color="#fcff02"/><stop offset="0.786" stop-color="#45ffb9"/><stop offset="0.857" stop-color="#0086ff"/><stop offset="0.929" stop-color="#0000df"/><stop offset="1.000" stop-color="#00007f"/></linearGradient><path d="M273.40,383.60 Q294.79,391.00 309.40,408.30" stroke="url(#g11)" stroke-width="3.5" stroke-linecap="round" fill="none" opacity="1.0"/><linearGradient id="g12" gradientUnits="userSpaceOnUse" x1="273.40" y1="383.60" x2="270.90" y2="426.30"><stop offset="0.000" stop-color="#0000f9"/><stop offset="0.071" stop-color="#0021ff"/><stop offset="0.143" stop-color="#0046ff"/><stop offset="0.214" stop-color="#0067ff"/><stop offset="0.286" stop-color="#0082ff"/><stop offset="0.357" stop-color="#0097ff"/><stop offset="0.429" stop-color="#00a3ff"/><stop offset="0.500" stop-color="#00a8ff"/><stop offset="0.571" stop-color="#00a3ff"/><stop offset="0.643" stop-color="#0097ff"/><stop offset="0.714" stop-color="#0082ff"/><stop offset="0.786" stop-color="#0067ff"/><stop offset="0.857" stop-color="#0046ff"/><stop offset="0.929" stop-color="#0021ff"/><stop offset="1.000" stop-color="#0000f9"/></linearGradient><path d="M273.40,383.60 Q272.95,405.00 270.90,426.30" stroke="url(#g12)" stroke-width="3.5" stroke-linecap="round" fill="none" opacity="1.0"/><circle cx="273.4" cy="383.6" r="2.2" fill="#1020c8"/><circle cx="274.6" cy="244.0" r="2.0" fill="#1020c8"/><text x="237.3" y="197.5" font-family='"Liberation Serif", serif' font-size="14" textLength="78.8" lengthAdjust="spacingAndGlyphs" fill="#222"><tspan font-style="italic">f</tspan>=0.969 kHz</text><text x="236.8" y="338.0" font-family='"Liberation Serif", serif' font-size="14" textLength="80.4" lengthAdjust="spacingAndGlyphs" fill="#222"><tspan font-style="italic">f</tspan>=1.051 kHz</text><text x="264.6" y="308.7" font-family='"Liberation Serif", serif' font-size="20.5" font-weight="bold" fill="#111">A<tspan font-size="13" dy="2.9">1</tspan></text><text x="265.2" y="446.7" font-family='"Liberation Serif", serif' font-size="20.5" font-weight="bold" fill="#111">B<tspan font-size="13" dy="2.9">1</tspan></text><linearGradient id="cbar" x1="0" y1="1" x2="0" y2="0"><stop offset="0.00" stop-color="#0000d1"/><stop offset="0.10" stop-color="#002dff"/><stop offset="0.20" stop-color="#0089ff"/><stop offset="0.30" stop-color="#00e5ff"/><stop offset="0.40" stop-color="#42ffbc"/><stop offset="0.50" stop-color="#9eff60"/><stop offset="0.60" stop-color="#f9ff05"/><stop offset="0.70" stop-color="#ffa800"/><stop offset="0.80" stop-color="#ff4c00"/><stop offset="0.90" stop-color="#ef0000"/><stop offset="1.00" stop-color="#930000"/></linearGradient><rect x="334.9" y="372.7" width="5.9" height="67.1" fill="url(#cbar)"/><text x="345.60" y="377.70" font-family='"Liberation Serif", serif' font-size="12.5" text-anchor="start" fill="#222" font-weight="normal" font-style="normal" >Max</text><text x="345.4" y="410.2" font-family='"Liberation Serif", serif' font-size="12" fill="#222">|<tspan font-style="italic" font-weight="bold">u</tspan>|</text><text x="346.40" y="443.30" font-family='"Liberation Serif", serif' font-size="12.5" text-anchor="start" fill="#222" font-weight="normal" font-style="normal" >Min</text><text x="347.60" y="192.60" font-family='"Liberation Sans", sans-serif' font-size="26" text-anchor="start" fill="#000" font-weight="normal" font-style="normal" >(d)</text><clipPath id="clipd"><rect x="415.2" y="191.2" width="137.70" height="212.00"/></clipPath><rect x="415.2" y="271.5" width="137.70" height="96.30" fill="#97cec7"/><rect x="415.2" y="232.0" width="137.70" height="31.50" fill="#97cec7"/><rect x="415.2" y="218.2" width="137.70" height="1.9" fill="#97cec7"/><g clip-path="url(#clipd)" fill="none" stroke="#1a1aff" stroke-width="1.6" stroke-linejoin="round"><path d="M415.20,368.37 C416.84,368.37 421.76,368.20 425.04,368.37 C428.31,368.54 432.41,369.38 434.87,369.38 C437.33,369.38 438.31,368.12 439.79,368.37 C441.26,368.62 442.41,368.46 443.72,370.90 C445.03,373.33 446.35,378.63 447.66,383.01 C448.97,387.38 450.44,393.78 451.59,397.14 C452.74,400.51 454.05,402.19 454.54,403.20"/><path d="M454.54,403.20 C455.69,400.00 459.13,389.49 461.43,384.02 C463.72,378.55 466.18,373.25 468.31,370.39 C470.44,367.53 472.41,366.77 474.21,366.86 C476.02,366.94 477.49,369.89 479.13,370.90 C480.77,371.90 482.41,373.25 484.05,372.91 C485.69,372.58 487.33,369.72 488.97,368.88 C490.61,368.03 492.25,367.87 493.89,367.87 C495.52,367.87 497.33,368.20 498.80,368.88 C500.28,369.55 501.26,369.13 502.74,371.90 C504.21,374.68 505.85,380.32 507.66,385.53 C509.46,390.75 512.57,400.26 513.56,403.20"/><path d="M513.56,403.20 C514.70,399.83 518.15,388.73 520.44,383.01 C522.74,377.29 525.20,371.57 527.33,368.88 C529.46,366.18 530.61,367.11 533.23,366.86 C535.85,366.60 539.79,367.11 543.06,367.36 C546.34,367.61 551.26,368.20 552.90,368.37"/><path d="M415.20,368.37 C416.84,369.13 422.41,370.90 425.04,372.91 C427.66,374.93 429.30,378.63 430.94,380.49 C432.58,382.34 433.56,384.86 434.87,384.02 C436.18,383.18 437.49,377.96 438.81,375.44 C440.12,372.91 441.59,369.30 442.74,368.88 C443.89,368.46 444.38,369.30 445.69,372.91 C447.00,376.53 449.13,385.70 450.61,390.58 C452.08,395.46 453.89,400.26 454.54,402.19"/><path d="M415.20,384.52 C416.84,384.61 421.76,384.44 425.04,385.03 C428.31,385.62 431.59,387.30 434.87,388.06 C438.15,388.81 441.43,389.07 444.71,389.57 C447.99,390.08 451.26,391.34 454.54,391.09 C457.82,390.83 461.10,389.15 464.38,388.06 C467.66,386.96 470.94,385.03 474.21,384.52 C477.49,384.02 480.77,385.03 484.05,385.03 C487.33,385.03 490.61,384.02 493.89,384.52 C497.16,385.03 500.44,386.80 503.72,388.06 C507.00,389.32 510.28,392.10 513.56,392.10 C516.84,392.10 520.11,389.32 523.39,388.06 C526.67,386.80 529.95,385.03 533.23,384.52 C536.51,384.02 539.79,384.69 543.06,385.03 C546.34,385.37 551.26,386.29 552.90,386.54"/><path d="M415.20,385.53 C416.84,385.70 421.76,385.95 425.04,386.54 C428.31,387.13 431.59,387.97 434.87,389.07 C438.15,390.16 441.43,390.75 444.71,393.10 C447.99,395.46 452.90,401.52 454.54,403.20"/><path d="M415.20,383.51 C418.48,383.85 429.95,384.94 434.87,385.53 C439.79,386.12 441.43,386.63 444.71,387.05 C447.99,387.47 451.26,388.23 454.54,388.06 C457.82,387.89 461.10,386.80 464.38,386.04 C467.66,385.28 469.30,383.93 474.21,383.51 C479.13,383.09 487.33,382.76 493.89,383.51 C500.44,384.27 507.00,388.06 513.56,388.06 C520.11,388.06 526.67,384.02 533.23,383.51 C539.79,383.01 549.62,384.78 552.90,385.03"/><path d="M493.89,367.87 C494.87,369.13 497.82,372.07 499.79,375.44 C501.75,378.80 503.39,383.43 505.69,388.06 C507.98,392.68 512.25,400.68 513.56,403.20"/><path d="M533.23,366.86 C534.87,368.71 540.44,374.43 543.06,377.96 C545.69,381.50 547.33,385.70 548.97,388.06 C550.61,390.41 552.24,391.42 552.90,392.10"/><path d="M484.05,372.91 C485.03,373.76 487.66,377.79 489.95,377.96 C492.25,378.13 495.52,375.44 497.82,373.92 C500.12,372.41 502.08,369.89 503.72,368.88 C505.36,367.87 507.00,368.03 507.66,367.87"/><path d="M415.20,268.43 C418.48,268.34 429.63,268.18 434.87,267.92 C440.12,267.67 443.40,267.67 446.67,266.91 C449.95,266.16 451.92,263.38 454.54,263.38 C457.17,263.38 459.13,265.74 462.41,266.91 C465.69,268.09 470.61,270.28 474.21,270.45 C477.82,270.62 480.77,268.34 484.05,267.92 C487.33,267.50 490.61,268.09 493.89,267.92 C497.16,267.76 500.44,267.50 503.72,266.91 C507.00,266.33 510.28,264.39 513.56,264.39 C516.84,264.39 520.11,266.24 523.39,266.91 C526.67,267.59 528.31,268.18 533.23,268.43 C538.15,268.68 549.62,268.43 552.90,268.43"/><path d="M415.20,267.42 C418.48,267.33 429.63,267.17 434.87,266.91 C440.12,266.66 443.40,266.41 446.67,265.90 C449.95,265.40 451.59,263.55 454.54,263.89 C457.49,264.22 461.10,267.08 464.38,267.92 C467.66,268.77 470.94,269.10 474.21,268.93 C477.49,268.77 480.77,267.25 484.05,266.91 C487.33,266.58 490.28,267.08 493.89,266.91 C497.49,266.75 502.41,266.24 505.69,265.90 C508.97,265.57 510.61,264.56 513.56,264.90 C516.51,265.23 520.11,267.17 523.39,267.92 C526.67,268.68 528.31,269.52 533.23,269.44 C538.15,269.35 549.62,267.76 552.90,267.42"/><path d="M415.20,267.92 C418.48,267.84 428.31,268.05 434.87,267.42 C441.43,266.79 449.30,263.89 454.54,264.14 C459.79,264.39 463.07,267.80 466.35,268.93 C469.62,270.07 471.59,270.87 474.21,270.95 C476.84,271.04 478.80,270.03 482.08,269.44 C485.36,268.85 488.64,268.09 493.89,267.42 C499.13,266.75 507.00,265.15 513.56,265.40 C520.11,265.65 526.67,268.51 533.23,268.93 C539.79,269.35 549.62,268.09 552.90,267.92"/><path d="M415.20,230.57 C416.84,230.23 421.76,229.23 425.04,228.55 C428.31,227.88 431.59,227.46 434.87,226.53 C438.15,225.61 441.43,224.22 444.71,223.00 C447.99,221.78 451.26,218.79 454.54,219.21 C457.82,219.63 461.10,223.72 464.38,225.52 C467.66,227.33 471.00,228.97 474.21,230.07 C477.43,231.16 480.38,232.25 483.66,232.09 C486.94,231.92 490.54,230.57 493.89,229.06 C497.23,227.54 500.44,224.68 503.72,223.00 C507.00,221.32 510.28,218.96 513.56,218.96 C516.84,218.96 520.11,221.49 523.39,223.00 C526.67,224.51 529.95,227.46 533.23,228.05 C536.51,228.64 539.79,226.95 543.06,226.53 C546.34,226.11 551.26,225.69 552.90,225.52"/><path d="M415.20,230.57 C416.51,229.90 420.45,227.63 423.07,226.53 C425.69,225.44 428.31,224.18 430.94,224.01 C433.56,223.84 436.18,225.94 438.81,225.52 C441.43,225.10 444.05,222.54 446.67,221.49 C449.30,220.43 451.92,219.05 454.54,219.21 C457.17,219.38 459.79,221.28 462.41,222.50 C465.03,223.72 467.66,225.19 470.28,226.53 C472.90,227.88 475.53,229.73 478.15,230.57 C480.77,231.41 483.39,231.67 486.02,231.58 C488.64,231.50 492.57,230.32 493.89,230.07"/><path d="M454.54,219.21 C455.85,220.01 459.79,222.62 462.41,224.01 C465.03,225.40 467.66,226.87 470.28,227.54 C472.90,228.22 475.85,227.54 478.15,228.05 C480.44,228.55 482.08,230.66 484.05,230.57 C486.02,230.49 487.98,228.38 489.95,227.54 C491.92,226.70 493.56,226.53 495.85,225.52 C498.15,224.51 500.77,222.58 503.72,221.49 C506.67,220.39 510.28,218.54 513.56,218.96 C516.84,219.38 520.11,222.75 523.39,224.01 C526.67,225.27 529.95,226.62 533.23,226.53 C536.51,226.45 539.79,224.18 543.06,223.50 C546.34,222.83 551.26,222.66 552.90,222.50"/><path d="M491.92,230.57 C492.90,229.90 495.52,228.05 497.82,226.53 C500.12,225.02 503.07,222.83 505.69,221.49 C508.31,220.14 510.93,219.72 513.56,218.46 C516.18,217.20 518.15,215.68 521.43,213.91 C524.70,212.15 531.26,208.87 533.23,207.86"/><path d="M415.20,207.86 C417.82,207.86 427.00,208.11 430.94,207.86 C434.87,207.60 436.18,208.03 438.81,206.34 C441.43,204.66 444.05,199.28 446.67,197.76 C449.30,196.25 451.59,197.26 454.54,197.26 C457.49,197.26 461.76,196.67 464.38,197.76 C467.00,198.86 468.31,202.22 470.28,203.82 C472.25,205.42 472.25,206.68 476.18,207.35 C480.12,208.03 489.95,208.19 493.89,207.86 C497.82,207.52 498.15,207.02 499.79,205.33 C501.43,203.65 501.43,199.11 503.72,197.76 C506.02,196.42 510.77,197.26 513.56,197.26 C516.34,197.26 518.47,196.67 520.44,197.76 C522.41,198.86 523.72,202.22 525.36,203.82 C527.00,205.42 525.69,206.68 530.28,207.35 C534.87,208.03 549.13,207.77 552.90,207.86"/><path d="M415.20,207.86 C417.82,207.94 427.00,208.11 430.94,208.36 C434.87,208.61 436.18,208.19 438.81,209.37 C441.43,210.55 444.05,213.87 446.67,215.43 C449.30,216.98 451.92,218.96 454.54,218.71 C457.17,218.46 459.79,215.55 462.41,213.91 C465.03,212.27 467.66,209.88 470.28,208.87 C472.90,207.86 474.21,207.94 478.15,207.86 C482.08,207.77 489.62,207.60 493.89,208.36 C498.15,209.12 500.44,210.63 503.72,212.40 C507.00,214.17 510.28,218.79 513.56,218.96 C516.84,219.13 520.11,215.18 523.39,213.41 C526.67,211.64 528.31,209.12 533.23,208.36 C538.15,207.60 549.62,208.78 552.90,208.87"/><path d="M415.20,208.36 C418.48,208.53 429.95,208.87 434.87,209.37 C439.79,209.88 441.43,209.79 444.71,211.39 C447.99,212.99 451.26,218.96 454.54,218.96 C457.82,218.96 461.10,213.49 464.38,211.39 C467.66,209.29 470.94,207.02 474.21,206.34 C477.49,205.67 480.77,206.85 484.05,207.35 C487.33,207.86 490.28,208.03 493.89,209.37 C497.49,210.72 502.41,213.75 505.69,215.43 C508.97,217.11 510.93,218.04 513.56,219.47 C516.18,220.90 518.15,222.83 521.43,224.01 C524.70,225.19 527.98,226.95 533.23,226.53 C538.47,226.11 549.62,222.33 552.90,221.49"/><path d="M430.94,207.86 C432.25,207.18 436.84,203.90 438.81,203.82 C440.77,203.73 441.10,205.67 442.74,207.35 C444.38,209.03 446.67,211.98 448.64,213.91 C450.61,215.85 453.56,218.12 454.54,218.96"/><path d="M454.54,218.96 C455.53,217.28 458.48,211.39 460.44,208.87 C462.41,206.34 464.38,204.07 466.35,203.82 C468.31,203.57 470.28,206.68 472.25,207.35 C474.21,208.03 477.16,207.77 478.15,207.86"/></g><rect x="415.2" y="191.2" width="137.70" height="212.00" fill="none" stroke="#666" stroke-width="0.9"/><text x="410.90" y="407.10" font-family='"Liberation Serif", serif' font-size="14.3" text-anchor="end" fill="#333" font-weight="normal" font-style="normal" >0.0</text><text x="410.90" y="366.72" font-family='"Liberation Serif", serif' font-size="14.3" text-anchor="end" fill="#333" font-weight="normal" font-style="normal" >0.8</text><text x="410.90" y="326.34" font-family='"Liberation Serif", serif' font-size="14.3" text-anchor="end" fill="#333" font-weight="normal" font-style="normal" >1.6</text><text x="410.90" y="285.96" font-family='"Liberation Serif", serif' font-size="14.3" text-anchor="end" fill="#333" font-weight="normal" font-style="normal" >2.4</text><text x="410.90" y="245.58" font-family='"Liberation Serif", serif' font-size="14.3" text-anchor="end" fill="#333" font-weight="normal" font-style="normal" >3.2</text><text x="410.90" y="205.20" font-family='"Liberation Serif", serif' font-size="14.3" text-anchor="end" fill="#333" font-weight="normal" font-style="normal" >4.0</text><path d="M434.87,403.2v-3M434.87,191.2v3M454.54,403.2v-3M454.54,191.2v3M474.21,403.2v-3M474.21,191.2v3M493.89,403.2v-3M493.89,191.2v3M513.56,403.2v-3M513.56,191.2v3M533.23,403.2v-3M533.23,191.2v3M415.2,403.20h3M552.9,403.20h-3M415.2,362.82h3M552.9,362.82h-3M415.2,322.44h3M552.9,322.44h-3M415.2,282.06h3M552.9,282.06h-3M415.2,241.68h3M552.9,241.68h-3M415.2,201.30h3M552.9,201.30h-3" stroke="#666" stroke-width="0.9" fill="none"/><text x="415.20" y="417.00" font-family='"Liberation Serif", serif' font-size="13.5" text-anchor="middle" fill="#222" font-weight="normal" font-style="normal" >R</text><text x="434.87" y="417.00" font-family='"Liberation Serif", serif' font-size="13.5" text-anchor="middle" fill="#222" font-weight="normal" font-style="normal" >M</text><text x="454.54" y="417.00" font-family='"Liberation Serif", serif' font-size="13.5" text-anchor="middle" fill="#222" font-weight="normal" font-style="normal" >&#915;</text><text x="474.21" y="417.00" font-family='"Liberation Serif", serif' font-size="13.5" text-anchor="middle" fill="#222" font-weight="normal" font-style="normal" >X</text><text x="493.89" y="417.00" font-family='"Liberation Serif", serif' font-size="13.5" text-anchor="middle" fill="#222" font-weight="normal" font-style="normal" >R</text><text x="513.56" y="417.00" font-family='"Liberation Serif", serif' font-size="13.5" text-anchor="middle" fill="#222" font-weight="normal" font-style="normal" >&#915;</text><text x="533.23" y="417.00" font-family='"Liberation Serif", serif' font-size="13.5" text-anchor="middle" fill="#222" font-weight="normal" font-style="normal" >X</text><text x="552.90" y="417.00" font-family='"Liberation Serif", serif' font-size="13.5" text-anchor="middle" fill="#222" font-weight="normal" font-style="normal" >M</text><text x="490.0" y="442.4" font-family='"Liberation Sans", sans-serif' font-size="15" text-anchor="middle" textLength="85.6" lengthAdjust="spacingAndGlyphs">Wave Vector</text><text transform="translate(381.0,298.7) rotate(-90)" font-family='"Liberation Sans", sans-serif' font-size="15" text-anchor="middle" textLength="120.4" lengthAdjust="spacingAndGlyphs">Frequency <tspan font-style="italic">f</tspan> (kHz)</text><circle cx="454.3" cy="216.5" r="2.4" fill="#f02020"/><circle cx="454.3" cy="220.6" r="2.4" fill="#f02020"/><circle cx="483.7" cy="232.1" r="2.4" fill="#f02020"/><circle cx="454.3" cy="264.2" r="2.4" fill="#f02020"/><circle cx="472.9" cy="270.3" r="2.4" fill="#f02020"/><circle cx="474.2" cy="366.8" r="2.4" fill="#f02020"/><text x="449.8" y="211.6" font-family='"Liberation Serif", serif' font-size="12.5" font-weight="bold" fill="#222">F<tspan font-size="8.5" dy="2.4">3</tspan></text><text x="449.8" y="231.4" font-family='"Liberation Serif", serif' font-size="12.5" font-weight="bold" fill="#222">E<tspan font-size="8.5" dy="2.4">3</tspan></text><text x="486.2" y="241.4" font-family='"Liberation Serif", serif' font-size="12.5" font-weight="bold" fill="#222">D<tspan font-size="8.5" dy="2.4">3</tspan></text><text x="455.6" y="260.4" font-family='"Liberation Serif", serif' font-size="12.5" font-weight="bold" fill="#222">C<tspan font-size="8.5" dy="2.4">3</tspan></text><text x="476.8" y="279.8" font-family='"Liberation Serif", serif' font-size="12.5" font-weight="bold" fill="#222">B<tspan font-size="8.5" dy="2.4">3</tspan></text><text x="457.2" y="362.4" font-family='"Liberation Serif", serif' font-size="12.5" font-weight="bold" fill="#222">A<tspan font-size="8.5" dy="2.4">3</tspan></text><path d="M598.2,231.4 L598.2,258.6 L615.6,270.4 M598.2,258.6 L604,255" stroke="#c8c8c8" stroke-width="0.7" fill="none"/><linearGradient id="g13" gradientUnits="userSpaceOnUse" x1="625.60" y1="221.50" x2="623.60" y2="208.20"><stop offset="0.000" stop-color="#f90000"/><stop offset="0.100" stop-color="#ff3000"/><stop offset="0.200" stop-color="#ff7700"/><stop offset="0.300" stop-color="#ffc400"/><stop offset="0.400" stop-color="#e5ff19"/><stop offset="0.500" stop-color="#8eff70"/><stop offset="0.600" stop-color="#32ffcc"/><stop offset="0.700" stop-color="#00d3ff"/><stop offset="0.800" stop-color="#0072ff"/><stop offset="0.900" stop-color="#000fff"/><stop offset="1.000" stop-color="#0000a8"/></linearGradient><path d="M625.60,221.50 Q625.19,214.76 623.60,208.20" stroke="url(#g13)" stroke-width="3.2" stroke-linecap="round" fill="none" opacity="1.0"/><linearGradient id="g14" gradientUnits="userSpaceOnUse" x1="643.70" y1="230.40" x2="655.00" y2="225.60"><stop offset="0.000" stop-color="#f90000"/><stop offset="0.100" stop-color="#ff3000"/><stop offset="0.200" stop-color="#ff7700"/><stop offset="0.300" stop-color="#ffc400"/><stop offset="0.400" stop-color="#e5ff19"/><stop offset="0.500" stop-color="#8eff70"/><stop offset="0.600" stop-color="#32ffcc"/><stop offset="0.700" stop-color="#00d3ff"/><stop offset="0.800" stop-color="#0072ff"/><stop offset="0.900" stop-color="#000fff"/><stop offset="1.000" stop-color="#0000a8"/></linearGradient><path d="M643.70,230.40 Q649.15,227.54 655.00,225.60" stroke="url(#g14)" stroke-width="3.2" stroke-linecap="round" fill="none" opacity="1.0"/><linearGradient id="g15" gradientUnits="userSpaceOnUse" x1="642.90" y1="256.60" x2="652.40" y2="267.40"><stop offset="0.000" stop-color="#f90000"/><stop offset="0.100" stop-color="#ff3000"/><stop offset="0.200" stop-color="#ff7700"/><stop offset="0.300" stop-color="#ffc400"/><stop offset="0.400" stop-color="#e5ff19"/><stop offset="0.500" stop-color="#8eff70"/><stop offset="0.600" stop-color="#32ffcc"/><stop offset="0.700" stop-color="#00d3ff"/><stop offset="0.800" stop-color="#0072ff"/><stop offset="0.900" stop-color="#000fff"/><stop offset="1.000" stop-color="#0000a8"/></linearGradient><path d="M642.90,256.60 Q647.27,262.33 652.40,267.40" stroke="url(#g15)" stroke-width="3.2" stroke-linecap="round" fill="none" opacity="1.0"/><linearGradient id="g16" gradientUnits="userSpaceOnUse" x1="619.90" y1="266.80" x2="614.40" y2="284.20"><stop offset="0.000" stop-color="#f90000"/><stop offset="0.100" stop-color="#ff3000"/><stop offset="0.200" stop-color="#ff7700"/><stop offset="0.300" stop-color="#ffc400"/><stop offset="0.400" stop-color="#e5ff19"/><stop offset="0.500" stop-color="#8eff70"/><stop offset="0.600" stop-color="#32ffcc"/><stop offset="0.700" stop-color="#00d3ff"/><stop offset="0.800" stop-color="#0072ff"/><stop offset="0.900" stop-color="#000fff"/><stop offset="1.000" stop-color="#0000a8"/></linearGradient><path d="M619.90,266.80 Q616.20,275.20 614.40,284.20" stroke="url(#g16)" stroke-width="3.2" stroke-linecap="round" fill="none" opacity="1.0"/><linearGradient id="g17" gradientUnits="userSpaceOnUse" x1="603.20" y1="255.80" x2="585.60" y2="262.90"><stop offset="0.000" stop-color="#f90000"/><stop offset="0.100" stop-color="#ff3000"/><stop offset="0.200" stop-color="#ff7700"/><stop offset="0.300" stop-color="#ffc400"/><stop offset="0.400" stop-color="#e5ff19"/><stop offset="0.500" stop-color="#8eff70"/><stop offset="0.600" stop-color="#32ffcc"/><stop offset="0.700" stop-color="#00d3ff"/><stop offset="0.800" stop-color="#0072ff"/><stop offset="0.900" stop-color="#000fff"/><stop offset="1.000" stop-color="#0000a8"/></linearGradient><path d="M603.20,255.80 Q594.59,259.81 585.60,262.90" stroke="url(#g17)" stroke-width="3.2" stroke-linecap="round" fill="none" opacity="1.0"/><linearGradient id="g18" gradientUnits="userSpaceOnUse" x1="602.20" y1="229.80" x2="584.20" y2="221.00"><stop offset="0.000" stop-color="#f90000"/><stop offset="0.100" stop-color="#ff3000"/><stop offset="0.200" stop-color="#ff7700"/><stop offset="0.300" stop-color="#ffc400"/><stop offset="0.400" stop-color="#e5ff19"/><stop offset="0.500" stop-color="#8eff70"/><stop offset="0.600" stop-color="#32ffcc"/><stop offset="0.700" stop-color="#00d3ff"/><stop offset="0.800" stop-color="#0072ff"/><stop offset="0.900" stop-color="#000fff"/><stop offset="1.000" stop-color="#0000a8"/></linearGradient><path d="M602.20,229.80 Q593.42,224.95 584.20,221.00" stroke="url(#g18)" stroke-width="3.2" stroke-linecap="round" fill="none" opacity="1.0"/><path d="M601.80,228.60 L625.60,220.60 L644.60,231.00 L618.80,241.60 Z" fill="#ac1810" stroke="#ac1810" stroke-width="0.5" stroke-linejoin="round"/><path d="M601.80,228.60 L618.80,241.60 L619.20,267.60 L601.80,255.80 Z" fill="#c01d13" stroke="#c01d13" stroke-width="0.5" stroke-linejoin="round"/><path d="M618.80,241.60 L644.60,231.00 L643.40,258.00 L619.20,267.60 Z" fill="#96130c" stroke="#96130c" stroke-width="0.5" stroke-linejoin="round"/><circle cx="624.0" cy="229.5" r="1.1" fill="#d83022"/><circle cx="609.5" cy="247.0" r="1.1" fill="#5a0804"/><circle cx="632.0" cy="249.0" r="1.1" fill="#c82a1c"/><linearGradient id="g19" gradientUnits="userSpaceOnUse" x1="619.60" y1="240.60" x2="613.00" y2="241.20"><stop offset="0.000" stop-color="#7fff7f"/><stop offset="0.100" stop-color="#51ffad"/><stop offset="0.200" stop-color="#23ffdb"/><stop offset="0.300" stop-color="#00f4ff"/><stop offset="0.400" stop-color="#00c6ff"/><stop offset="0.500" stop-color="#0099ff"/><stop offset="0.600" stop-color="#006bff"/><stop offset="0.700" stop-color="#003dff"/><stop offset="0.800" stop-color="#000fff"/><stop offset="0.900" stop-color="#0000e0"/><stop offset="1.000" stop-color="#0000b2"/></linearGradient><path d="M619.60,240.60 Q616.30,240.90 613.00,241.20" stroke="url(#g19)" stroke-width="2.8" stroke-linecap="round" fill="none" opacity="1.0"/><linearGradient id="g20" gradientUnits="userSpaceOnUse" x1="625.60" y1="357.50" x2="627.30" y2="344.20"><stop offset="0.000" stop-color="#00d1ff"/><stop offset="0.100" stop-color="#81ff7d"/><stop offset="0.200" stop-color="#ffcd00"/><stop offset="0.300" stop-color="#ff1d00"/><stop offset="0.400" stop-color="#f90000"/><stop offset="0.500" stop-color="#f90000"/><stop offset="0.600" stop-color="#f90000"/><stop offset="0.700" stop-color="#f90000"/><stop offset="0.800" stop-color="#ff3300"/><stop offset="0.900" stop-color="#ff6b00"/><stop offset="1.000" stop-color="#ffa300"/></linearGradient><path d="M625.60,357.50 Q627.64,351.00 627.30,344.20" stroke="url(#g20)" stroke-width="3.3" stroke-linecap="round" fill="none" opacity="1.0"/><linearGradient id="g21" gradientUnits="userSpaceOnUse" x1="599.80" y1="365.80" x2="585.70" y2="357.60"><stop offset="0.000" stop-color="#00d1ff"/><stop offset="0.100" stop-color="#81ff7d"/><stop offset="0.200" stop-color="#ffcd00"/><stop offset="0.300" stop-color="#ff1d00"/><stop offset="0.400" stop-color="#f90000"/><stop offset="0.500" stop-color="#f90000"/><stop offset="0.600" stop-color="#f90000"/><stop offset="0.700" stop-color="#f90000"/><stop offset="0.800" stop-color="#ff3300"/><stop offset="0.900" stop-color="#ff6b00"/><stop offset="1.000" stop-color="#ffa300"/></linearGradient><path d="M599.80,365.80 Q592.15,362.74 585.70,357.60" stroke="url(#g21)" stroke-width="3.3" stroke-linecap="round" fill="none" opacity="1.0"/><linearGradient id="g22" gradientUnits="userSpaceOnUse" x1="644.30" y1="367.90" x2="659.80" y2="360.70"><stop offset="0.000" stop-color="#00d1ff"/><stop offset="0.100" stop-color="#81ff7d"/><stop offset="0.200" stop-color="#ffcd00"/><stop offset="0.300" stop-color="#ff1d00"/><stop offset="0.400" stop-color="#f90000"/><stop offset="0.500" stop-color="#f90000"/><stop offset="0.600" stop-color="#f90000"/><stop offset="0.700" stop-color="#f90000"/><stop offset="0.800" stop-color="#ff3300"/><stop offset="0.900" stop-color="#ff6b00"/><stop offset="1.000" stop-color="#ffa300"/></linearGradient><path d="M644.30,367.90 Q652.30,364.84 659.80,360.70" stroke="url(#g22)" stroke-width="3.3" stroke-linecap="round" fill="none" opacity="1.0"/><linearGradient id="g23" gradientUnits="userSpaceOnUse" x1="643.60" y1="394.80" x2="657.00" y2="403.50"><stop offset="0.000" stop-color="#00d1ff"/><stop offset="0.100" stop-color="#81ff7d"/><stop offset="0.200" stop-color="#ffcd00"/><stop offset="0.300" stop-color="#ff1d00"/><stop offset="0.400" stop-color="#f90000"/><stop offset="0.500" stop-color="#f90000"/><stop offset="0.600" stop-color="#f90000"/><stop offset="0.700" stop-color="#f90000"/><stop offset="0.800" stop-color="#ff3300"/><stop offset="0.900" stop-color="#ff6b00"/><stop offset="1.000" stop-color="#ffa300"/></linearGradient><path d="M643.60,394.80 Q649.65,400.16 657.00,403.50" stroke="url(#g23)" stroke-width="3.3" stroke-linecap="round" fill="none" opacity="1.0"/><linearGradient id="g24" gradientUnits="userSpaceOnUse" x1="618.60" y1="405.00" x2="615.30" y2="420.50"><stop offset="0.000" stop-color="#00d1ff"/><stop offset="0.100" stop-color="#81ff7d"/><stop offset="0.200" stop-color="#ffcd00"/><stop offset="0.300" stop-color="#ff1d00"/><stop offset="0.400" stop-color="#f90000"/><stop offset="0.500" stop-color="#f90000"/><stop offset="0.600" stop-color="#f90000"/><stop offset="0.700" stop-color="#f90000"/><stop offset="0.800" stop-color="#ff3300"/><stop offset="0.900" stop-color="#ff6b00"/><stop offset="1.000" stop-color="#ffa300"/></linearGradient><path d="M618.60,405.00 Q618.42,413.06 615.30,420.50" stroke="url(#g24)" stroke-width="3.3" stroke-linecap="round" fill="none" opacity="1.0"/><linearGradient id="g25" gradientUnits="userSpaceOnUse" x1="599.80" y1="393.40" x2="586.40" y2="400.00"><stop offset="0.000" stop-color="#00d1ff"/><stop offset="0.100" stop-color="#81ff7d"/><stop offset="0.200" stop-color="#ffcd00"/><stop offset="0.300" stop-color="#ff1d00"/><stop offset="0.400" stop-color="#f90000"/><stop offset="0.500" stop-color="#f90000"/><stop offset="0.600" stop-color="#f90000"/><stop offset="0.700" stop-color="#f90000"/><stop offset="0.800" stop-color="#ff3300"/><stop offset="0.900" stop-color="#ff6b00"/><stop offset="1.000" stop-color="#ffa300"/></linearGradient><path d="M599.80,393.40 Q592.77,396.03 586.40,400.00" stroke="url(#g25)" stroke-width="3.3" stroke-linecap="round" fill="none" opacity="1.0"/><path d="M599.60,365.90 L624.90,357.60 L644.50,368.10 L615.60,378.40 Z" fill="#2e2ecc" stroke="#2e2ecc" stroke-width="0.5" stroke-linejoin="round"/><path d="M599.60,365.90 L615.60,378.40 L618.50,403.80 L599.30,392.40 Z" fill="#3a3ae4" stroke="#3a3ae4" stroke-width="0.5" stroke-linejoin="round"/><path d="M615.60,378.40 L644.50,368.10 L643.20,394.40 L618.50,403.80 Z" fill="#3234d6" stroke="#3234d6" stroke-width="0.5" stroke-linejoin="round"/><circle cx="622.4" cy="368.2" r="1.1" fill="#1a1f90"/><circle cx="609.0" cy="385.2" r="1.1" fill="#1a1f90"/><circle cx="631.6" cy="385.9" r="1.1" fill="#1a1f90"/><circle cx="614.6" cy="379.4" r="2.1" fill="#f06010"/><circle cx="615.4" cy="379.2" r="1.1" fill="#ffd020"/><text x="584.4" y="200.3" font-family='"Liberation Serif", serif' font-size="14" textLength="74.4" lengthAdjust="spacingAndGlyphs" fill="#222"><tspan font-style="italic">f</tspan>=0.694 kHz</text><text x="585.5" y="332.9" font-family='"Liberation Serif", serif' font-size="14" textLength="77.5" lengthAdjust="spacingAndGlyphs" fill="#222"><tspan font-style="italic">f</tspan>=3.414 kHz</text><text x="609.9" y="304.6" font-family='"Liberation Serif", serif' font-size="19.5" font-weight="bold" fill="#111">A<tspan font-size="13" dy="2.9">3</tspan></text><text x="611.6" y="439.6" font-family='"Liberation Serif", serif' font-size="20.5" font-weight="bold" fill="#111">D<tspan font-size="13" dy="3.5">3</tspan></text><text x="0.80" y="467.60" font-family='"Liberation Sans", sans-serif' font-size="26" text-anchor="start" fill="#000" font-weight="normal" font-style="normal" >(e)</text><line x1="67.5" y1="529.4" x2="125.4" y2="529.4" stroke="#d42a2a" stroke-width="0.9" stroke-dasharray="7,1.2,1.5,1.2"/><line x1="93.5" y1="517.5" x2="152.0" y2="517.5" stroke="#d42a2a" stroke-width="0.9" stroke-dasharray="7,1.2,1.5,1.2"/><line x1="125.4" y1="529.4" x2="125.4" y2="587.3" stroke="#d42a2a" stroke-width="0.9" stroke-dasharray="7,1.2,1.5,1.2"/><line x1="152.0" y1="517.5" x2="152.0" y2="575.0" stroke="#d42a2a" stroke-width="0.9" stroke-dasharray="7,1.2,1.5,1.2"/><line x1="125.4" y1="587.3" x2="67.5" y2="587.3" stroke="#d42a2a" stroke-width="0.9" stroke-dasharray="7,1.2,1.5,1.2"/><line x1="152.0" y1="575.0" x2="93.5" y2="575.0" stroke="#d42a2a" stroke-width="0.9" stroke-dasharray="7,1.2,1.5,1.2"/><line x1="67.5" y1="587.3" x2="67.5" y2="529.4" stroke="#d42a2a" stroke-width="0.9" stroke-dasharray="7,1.2,1.5,1.2"/><line x1="93.5" y1="575.0" x2="93.5" y2="517.5" stroke="#d42a2a" stroke-width="0.9" stroke-dasharray="7,1.2,1.5,1.2"/><line x1="67.5" y1="529.4" x2="93.5" y2="517.5" stroke="#d42a2a" stroke-width="0.9" stroke-dasharray="7,1.2,1.5,1.2"/><line x1="125.4" y1="529.4" x2="152.0" y2="517.5" stroke="#d42a2a" stroke-width="0.9" stroke-dasharray="7,1.2,1.5,1.2"/><line x1="125.4" y1="587.3" x2="152.0" y2="575.0" stroke="#d42a2a" stroke-width="0.9" stroke-dasharray="7,1.2,1.5,1.2"/><line x1="67.5" y1="587.3" x2="93.5" y2="575.0" stroke="#d42a2a" stroke-width="0.9" stroke-dasharray="7,1.2,1.5,1.2"/><line x1="56.7" y1="529.4" x2="114.0" y2="529.4" stroke="#111" stroke-width="0.9"/><line x1="114.0" y1="529.4" x2="114.0" y2="587.3" stroke="#111" stroke-width="0.9"/><line x1="114.0" y1="587.3" x2="56.7" y2="587.3" stroke="#111" stroke-width="0.9"/><line x1="56.7" y1="587.3" x2="56.7" y2="529.4" stroke="#111" stroke-width="0.9"/><line x1="82.1" y1="517.5" x2="140.2" y2="517.5" stroke="#111" stroke-width="0.9"/><line x1="140.2" y1="517.5" x2="140.2" y2="575.0" stroke="#111" stroke-width="0.9"/><line x1="82.1" y1="517.5" x2="82.1" y2="575.0" stroke="#111" stroke-width="0.9" stroke-dasharray="2.6,1.4"/><line x1="82.1" y1="575.0" x2="140.2" y2="575.0" stroke="#111" stroke-width="0.9" stroke-dasharray="2.6,1.4"/><line x1="56.7" y1="529.4" x2="82.1" y2="517.5" stroke="#111" stroke-width="0.9"/><line x1="114.0" y1="529.4" x2="140.2" y2="517.5" stroke="#111" stroke-width="0.9"/><line x1="114.0" y1="587.3" x2="140.2" y2="575.0" stroke="#111" stroke-width="0.9"/><line x1="56.7" y1="587.3" x2="82.1" y2="575.0" stroke="#111" stroke-width="0.9" stroke-dasharray="2.6,1.4"/><polyline points="56.70,529.40 46.48,519.52 48.99,515.54 41.21,520.82 46.23,512.88 38.46,518.16 43.47,510.21 35.70,515.49 40.72,507.54 32.94,512.82 37.96,504.87 34.07,507.51 20.20,494.10" fill="none" stroke="#111" stroke-width="0.95" stroke-linejoin="miter"/><polyline points="82.10,517.50 74.57,504.21 78.10,501.11 69.15,503.97 76.20,497.76 67.25,500.62 74.31,494.41 65.35,497.27 72.41,491.06 63.46,493.93 70.51,487.72 66.04,489.15 57.00,473.20" fill="none" stroke="#111" stroke-width="0.95" stroke-linejoin="miter"/><polyline points="114.00,529.40 122.58,517.13 126.86,519.04 120.34,512.31 128.89,516.13 122.37,509.40 130.93,513.22 124.40,506.50 132.96,510.31 126.44,503.59 134.99,507.41 131.73,504.04 142.60,488.50" fill="none" stroke="#111" stroke-width="0.95" stroke-linejoin="miter"/><polyline points="140.20,517.50 151.33,506.37 155.24,508.97 150.05,501.14 157.87,506.33 152.68,498.51 160.51,503.70 155.32,495.88 163.14,501.07 157.95,493.25 165.77,498.43 163.18,494.52 176.10,481.60" fill="none" stroke="#111" stroke-width="0.95" stroke-linejoin="miter"/><polyline points="56.70,587.30 47.43,600.56 43.11,598.71 49.55,605.55 40.91,601.85 47.35,608.70 38.72,605.00 45.16,611.84 36.52,608.14 42.96,614.98 34.32,611.28 37.54,614.70 25.80,631.50" fill="none" stroke="#111" stroke-width="0.95" stroke-linejoin="miter"/><polyline points="74.00,588.00 72.46,589.86 68.34,587.61 74.26,594.89 66.02,590.39 71.94,597.67 63.71,593.18 69.62,600.45 61.39,595.96 64.35,599.60 54.70,611.20" fill="none" stroke="#111" stroke-width="0.95" stroke-linejoin="miter"/><polyline points="114.40,587.30 120.52,600.80 116.69,603.50 125.80,601.30 118.14,606.70 127.25,604.50 119.59,609.90 128.70,607.70 121.05,613.10 130.15,610.90 122.50,616.30 127.05,615.20 134.80,632.30" fill="none" stroke="#111" stroke-width="0.95" stroke-linejoin="miter"/><polyline points="140.20,575.00 150.79,585.50 148.22,589.43 156.03,584.22 150.89,592.07 158.70,586.86 153.55,594.72 161.36,589.51 156.22,597.36 164.03,592.15 158.89,600.01 162.79,597.40 175.50,610.00" fill="none" stroke="#111" stroke-width="0.95" stroke-linejoin="miter"/><line x1="114.6" y1="589.5" x2="114.6" y2="598.5" stroke="#111" stroke-width="0.9"/><line x1="125.6" y1="589.5" x2="125.6" y2="598.5" stroke="#d42a2a" stroke-width="0.9"/><line x1="96.7" y1="594.2" x2="110.5" y2="594.2" stroke="#111" stroke-width="0.9"/><path d="M109.0,591.9 L114.4,594.2 L109.0,596.5 Z" fill="#111"/><line x1="149.3" y1="594.2" x2="129.6" y2="594.2" stroke="#111" stroke-width="0.9"/><path d="M131.2,591.9 L125.8,594.2 L131.2,596.5 Z" fill="#111"/><text x="28.30" y="529.60" font-family='"Liberation Serif", serif' font-size="14" text-anchor="middle" fill="#222" font-weight="normal" font-style="italic" >k</text><text x="84.80" y="497.60" font-family='"Liberation Serif", serif' font-size="14" text-anchor="middle" fill="#222" font-weight="normal" font-style="italic" >k</text><text x="114.50" y="504.40" font-family='"Liberation Serif", serif' font-size="14" text-anchor="middle" fill="#222" font-weight="normal" font-style="italic" >k</text><text x="169.60" y="514.60" font-family='"Liberation Serif", serif' font-size="14" text-anchor="middle" fill="#222" font-weight="normal" font-style="italic" >k</text><text x="27.10" y="603.20" font-family='"Liberation Serif", serif' font-size="14" text-anchor="middle" fill="#222" font-weight="normal" font-style="italic" >k</text><text x="83.60" y="602.00" font-family='"Liberation Serif", serif' font-size="14" text-anchor="middle" fill="#222" font-weight="normal" font-style="italic" >k</text><text x="111.20" y="614.00" font-family='"Liberation Serif", serif' font-size="14" text-anchor="middle" fill="#222" font-weight="normal" font-style="italic" >k</text><text x="170.30" y="583.60" font-family='"Liberation Serif", serif' font-size="14" text-anchor="middle" fill="#222" font-weight="normal" font-style="italic" >k</text><text x="141.60" y="592.60" font-family='"Liberation Serif", serif' font-size="14" text-anchor="middle" fill="#222" font-weight="normal" font-style="italic" >c</text><text x="89.60" y="559.80" font-family='"Liberation Serif", serif' font-size="14" text-anchor="middle" fill="#222" font-weight="normal" font-style="italic" >m</text><text x="195.20" y="467.60" font-family='"Liberation Sans", sans-serif' font-size="26" text-anchor="start" fill="#000" font-weight="normal" font-style="normal" >(f)</text><clipPath id="clipf"><rect x="246.6" y="479.6" width="415.40" height="114.50"/></clipPath><g clip-path="url(#clipf)"><polyline points="246.53,504.98 248.07,502.04 249.60,500.99 251.13,501.92 252.66,502.52 254.96,496.69 257.26,491.80 258.80,498.30 260.33,504.06 262.63,506.04 264.93,507.12 267.23,506.33 269.52,508.66 271.82,506.90 274.12,508.66 277.19,506.81 280.25,502.52 281.79,496.29 283.32,491.80 285.62,494.67 287.92,499.46 289.45,502.01 290.98,500.99 293.28,501.65 295.58,502.52 296.66,498.37 297.73,491.80 298.95,496.31 300.18,500.99 301.71,502.26 303.25,502.52 304.78,498.20 306.31,496.39 307.84,499.94 309.38,502.52 310.91,506.15 312.44,507.12 314.74,510.27 317.04,513.25 317.81,516.42 318.57,517.85 320.11,513.87 321.64,508.66 323.48,505.55 325.32,505.59 326.55,504.22 327.77,500.99 330.07,499.79 332.37,497.93 334.36,494.15 336.35,491.80 338.19,490.11 340.03,491.80 341.57,500.78 343.10,507.12 346.16,505.49 349.23,504.06 351.53,507.14 353.83,508.66 356.13,512.32 358.43,513.25 359.96,510.19 361.49,505.59 363.79,510.17 366.09,511.72 368.39,509.04 370.69,507.12 372.22,506.67 373.76,504.06 375.59,500.79 377.43,497.93 379.43,501.03 381.42,500.99 383.72,504.66 386.02,505.59 388.32,503.37 390.62,504.06 392.15,502.75 393.68,504.06 395.98,501.51 398.28,500.99 401.35,504.97 404.41,505.59 406.71,509.96 409.01,514.79 410.54,510.64 412.08,505.59 413.61,506.41 415.14,508.66 417.44,510.21 419.74,511.72 422.04,506.71 424.34,502.52 425.87,506.59 427.40,511.72 428.94,510.50 430.47,508.66 432.46,511.26 434.45,513.25 436.29,509.34 438.13,502.52 440.43,505.48 442.73,507.12 445.03,504.84 447.33,499.46 448.86,501.97 450.40,501.91 453.32,507.34 456.25,509.24 459.37,508.29 462.50,506.12 465.62,506.47 468.74,509.24 471.87,509.76 474.99,507.68 478.12,508.57 481.24,506.12 485.93,509.14 490.61,509.24 493.74,511.05 496.86,512.36 499.98,516.26 503.11,518.61 506.23,516.01 509.36,515.49 510.92,519.81 512.48,521.74 514.04,518.88 515.60,515.49 517.17,518.62 518.73,523.30 521.85,519.38 524.98,518.61 527.32,514.42 529.66,507.68 532.01,518.03 534.35,524.86 536.69,518.69 539.03,515.49 541.38,513.45 543.72,509.24 546.84,508.92 549.97,509.24 551.53,511.89 553.09,517.05 555.44,510.06 557.78,504.55 560.12,507.08 562.46,507.68 564.81,512.14 567.15,513.93 569.49,509.94 571.84,509.24 574.18,508.87 576.52,507.68 578.87,510.73 581.21,517.05 584.33,513.15 587.46,507.68 589.80,512.54 592.14,518.61 594.49,513.74 596.83,506.12 599.17,514.09 601.52,518.61 603.86,512.38 606.20,506.12 609.33,512.60 612.45,515.49 615.57,510.90 618.70,507.68 621.04,506.94 623.38,509.24 626.51,512.72 629.63,515.49 631.97,510.68 634.32,509.24 636.66,512.06 639.00,517.05 641.35,512.03 643.69,507.68 646.81,510.42 649.94,512.36 653.06,508.00 656.19,506.12 659.31,505.25 662.43,507.68 664.00,509.00 665.56,507.68" fill="none" stroke="#3a83c2" stroke-width="1.3" stroke-linejoin="round"/><polyline points="246.53,504.98 253.43,504.96 260.33,504.06 267.99,501.86 275.66,497.93 277.96,498.22 280.25,496.39 281.79,491.86 283.32,484.13 284.85,488.83 286.39,491.80 288.68,496.38 290.98,497.93 293.28,497.76 295.58,500.99 297.88,501.63 300.18,502.52 303.25,504.89 306.31,504.06 310.14,506.13 313.98,507.12 315.05,498.60 316.12,487.20 317.04,495.77 317.96,507.12 319.03,501.65 320.11,496.39 321.64,501.61 323.17,508.66 324.25,505.75 325.32,502.52 326.55,495.13 327.77,487.20 329.00,496.17 330.22,508.66 332.06,506.10 333.90,505.59 335.44,501.73 336.97,499.46 337.73,509.39 338.50,516.32 340.80,515.74 343.10,513.25 346.16,510.50 349.23,510.19 352.30,510.49 355.36,508.66 358.43,506.59 361.49,507.12 364.56,506.01 367.62,504.06 370.69,501.18 373.76,500.99 375.59,496.13 377.43,494.86 378.66,498.50 379.89,499.46 382.19,500.71 384.48,504.06 386.78,504.57 389.08,507.12 391.38,508.09 393.68,505.59 395.98,502.33 398.28,496.39 399.81,497.93 401.35,500.99 402.88,499.59 404.41,494.86 405.94,501.13 407.48,507.12 409.32,500.10 411.16,491.80 412.38,497.63 413.61,505.59 415.14,505.65 416.67,502.52 418.97,500.15 421.27,496.39 423.57,503.44 425.87,507.12 428.17,505.48 430.47,500.99 432.77,498.73 435.07,497.93 437.37,502.79 439.67,508.66 441.97,502.86 444.26,499.46 446.56,503.55 448.86,510.19 449.63,507.55 450.40,508.04 453.32,505.58 456.25,504.55 459.37,506.49 462.50,507.68 465.62,502.77 468.74,501.43 471.87,505.19 474.99,507.68 478.12,505.53 481.24,504.55 484.36,503.09 487.49,502.99 489.83,501.01 492.17,496.74 494.52,499.80 496.86,502.99 499.20,503.89 501.55,506.12 503.89,503.71 506.23,501.43 508.58,498.26 510.92,493.62 512.48,495.15 514.04,499.87 515.60,503.92 517.17,504.55 519.51,505.18 521.85,509.24 524.20,508.58 526.54,506.12 528.88,506.58 531.22,504.55 533.57,500.48 535.91,499.87 538.25,504.03 540.60,506.12 543.72,504.07 546.84,502.99 549.97,503.27 553.09,502.99 556.22,498.88 559.34,498.31 561.68,499.80 564.03,504.55 566.37,501.06 568.71,499.87 571.84,503.07 574.96,502.99 578.08,501.12 581.21,501.43 584.33,503.91 587.46,504.55 590.58,504.54 593.71,501.43 596.83,504.58 599.95,504.55 603.08,502.43 606.20,501.43 609.33,503.25 612.45,506.12 615.57,503.86 618.70,501.43 621.82,504.77 624.95,506.12 627.29,503.92 629.63,504.55 631.97,503.89 634.32,501.43 636.66,505.62 639.00,507.68 641.35,507.41 643.69,504.55 646.03,505.23 648.38,509.24 650.72,509.28 653.06,506.12 655.40,503.86 657.75,504.55 660.09,504.76 662.43,506.12 664.00,506.52 665.56,506.12" fill="none" stroke="#3bb03b" stroke-width="1.3" stroke-linejoin="round"/><polyline points="246.53,504.98 248.53,498.39 250.52,491.80 251.59,499.46 252.66,507.12 254.20,509.42 255.73,511.72 257.26,510.19 258.80,508.66 260.79,497.16 262.78,485.66 263.85,494.86 264.93,504.06 267.99,509.42 271.06,514.79 272.59,508.66 274.12,502.52 274.89,507.12 275.66,511.72 277.19,502.52 278.72,493.33 279.49,501.76 280.25,510.19 281.79,504.82 283.32,499.46 284.09,505.59 284.85,511.72 286.39,507.12 287.92,502.52 289.14,505.59 290.37,508.66 291.44,510.96 292.52,513.25 293.59,514.02 294.66,514.79 295.89,519.39 297.12,523.98 299.41,529.35 301.71,534.71 304.01,538.55 306.31,542.38 309.38,546.21 312.44,550.04 314.28,548.05 316.12,546.06 317.35,548.51 318.57,550.96 321.64,554.64 324.71,558.32 330.84,562.30 336.97,566.29 343.10,568.90 349.23,571.50 353.06,572.27 356.89,573.03 357.97,570.73 359.04,568.44 359.96,571.04 360.88,573.65 364.25,572.57 367.62,571.50 369.92,567.67 372.22,563.84 373.76,558.47 375.29,553.11 376.82,558.47 378.35,563.84 382.19,567.67 386.02,571.50 392.15,574.11 398.28,576.71 402.88,577.17 407.48,577.63 408.70,573.03 409.93,568.44 411.00,572.27 412.08,576.10 414.37,573.03 416.67,569.97 417.44,564.60 418.21,559.24 419.28,553.87 420.35,548.51 421.27,555.41 422.19,562.30 422.96,545.90 423.72,529.50 424.80,543.60 425.87,557.71 426.94,544.68 428.02,531.65 428.94,543.14 429.86,554.64 431.24,553.11 432.61,551.57 433.84,557.71 435.07,563.84 436.60,561.54 438.13,559.24 439.67,568.44 441.20,577.63 443.50,579.93 445.80,582.23 448.10,582.23 450.40,582.23 450.20,582.91 450.00,583.59 454.69,582.34 459.37,581.09 460.62,580.31 461.87,579.53 462.50,563.13 463.12,546.73 463.75,562.35 464.37,577.97 466.56,574.84 468.74,571.72 469.99,565.16 471.24,558.60 472.34,563.60 473.43,568.60 475.77,562.35 478.12,556.10 479.68,549.07 481.24,542.04 482.02,537.36 482.80,534.23 484.36,529.57 485.93,527.98 487.49,524.74 489.05,520.17 489.83,509.70 490.61,502.99 491.39,512.52 492.17,521.74 492.96,514.90 493.74,509.24 495.30,504.17 496.86,502.99 498.11,512.40 499.36,521.74 500.45,510.33 501.55,502.99 503.11,508.95 504.67,515.49 506.23,518.28 507.79,524.86 508.58,515.25 509.36,509.24 510.14,505.78 510.92,502.99 511.70,515.36 512.48,524.86 514.04,512.27 515.60,502.99 516.39,508.02 517.17,515.49 518.26,512.14 519.35,507.68 520.60,515.12 521.85,518.61 523.41,515.83 524.98,512.36 526.54,509.57 528.10,507.68 529.66,512.12 531.22,512.36 532.79,508.81 534.35,509.24 536.22,507.69 538.10,502.99 539.35,506.75 540.60,512.36 541.69,499.86 542.78,490.50 543.56,499.75 544.35,512.36 546.38,506.84 548.41,502.99 549.97,510.63 551.53,515.49 553.09,512.52 554.65,512.36 555.44,517.05 556.22,521.74 557.47,518.61 558.72,515.49 559.81,521.74 560.90,527.98 562.46,526.42 564.03,524.86 565.59,532.67 567.15,540.48 567.93,537.36 568.71,534.23 570.27,532.67 571.84,531.11 573.40,537.36 574.96,543.60 576.52,549.85 578.08,556.10 581.21,560.79 584.33,565.47 587.46,568.60 590.58,571.72 591.36,570.94 592.14,570.16 592.92,571.72 593.71,573.28 596.83,574.84 599.95,576.41 602.30,576.88 604.64,577.34 606.20,554.23 607.76,531.11 608.86,551.41 609.95,571.72 611.98,574.84 614.01,577.97 617.92,579.22 621.82,580.47 624.16,579.53 626.51,578.59 628.07,547.82 629.63,517.05 630.41,548.29 631.19,579.53 632.76,569.38 634.32,559.22 635.88,565.47 637.44,571.72 639.00,562.35 640.57,552.98 642.13,556.10 643.69,559.22 646.03,548.29 648.38,537.36 649.94,534.23 651.50,531.11 653.06,520.17 654.62,509.24 655.40,521.74 656.19,534.23 657.75,528.77 659.31,523.30 660.87,522.52 662.43,521.74 664.00,520.17 665.56,518.61" fill="none" stroke="#dc2430" stroke-width="1.3" stroke-linejoin="round"/></g><rect x="246.6" y="479.6" width="415.40" height="114.50" fill="none" stroke="#555" stroke-width="0.9"/><text x="246.60" y="607.80" font-family='"Liberation Serif", serif' font-size="12.5" text-anchor="middle" fill="#333" font-weight="normal" font-style="normal" >0.0</text><text x="288.14" y="607.80" font-family='"Liberation Serif", serif' font-size="12.5" text-anchor="middle" fill="#333" font-weight="normal" font-style="normal" >0.6</text><text x="329.68" y="607.80" font-family='"Liberation Serif", serif' font-size="12.5" text-anchor="middle" fill="#333" font-weight="normal" font-style="normal" >1.2</text><text x="371.22" y="607.80" font-family='"Liberation Serif", serif' font-size="12.5" text-anchor="middle" fill="#333" font-weight="normal" font-style="normal" >1.8</text><text x="412.76" y="607.80" font-family='"Liberation Serif", serif' font-size="12.5" text-anchor="middle" fill="#333" font-weight="normal" font-style="normal" >2.4</text><text x="454.30" y="607.80" font-family='"Liberation Serif", serif' font-size="12.5" text-anchor="middle" fill="#333" font-weight="normal" font-style="normal" >3.0</text><text x="495.84" y="607.80" font-family='"Liberation Serif", serif' font-size="12.5" text-anchor="middle" fill="#333" font-weight="normal" font-style="normal" >3.6</text><text x="537.38" y="607.80" font-family='"Liberation Serif", serif' font-size="12.5" text-anchor="middle" fill="#333" font-weight="normal" font-style="normal" >4.2</text><text x="578.92" y="607.80" font-family='"Liberation Serif", serif' font-size="12.5" text-anchor="middle" fill="#333" font-weight="normal" font-style="normal" >4.8</text><text x="620.46" y="607.80" font-family='"Liberation Serif", serif' font-size="12.5" text-anchor="middle" fill="#333" font-weight="normal" font-style="normal" >5.4</text><text x="662.00" y="607.80" font-family='"Liberation Serif", serif' font-size="12.5" text-anchor="middle" fill="#333" font-weight="normal" font-style="normal" >6.0</text><text x="242.20" y="487.67" font-family='"Liberation Serif", serif' font-size="12.5" text-anchor="end" fill="#333" font-weight="normal" font-style="normal" >30</text><text x="242.20" y="509.80" font-family='"Liberation Serif", serif' font-size="12.5" text-anchor="end" fill="#333" font-weight="normal" font-style="normal" >0</text><text x="242.20" y="531.93" font-family='"Liberation Serif", serif' font-size="12.5" text-anchor="end" fill="#333" font-weight="normal" font-style="normal" >-30</text><text x="242.20" y="554.06" font-family='"Liberation Serif", serif' font-size="12.5" text-anchor="end" fill="#333" font-weight="normal" font-style="normal" >-60</text><text x="242.20" y="576.19" font-family='"Liberation Serif", serif' font-size="12.5" text-anchor="end" fill="#333" font-weight="normal" font-style="normal" >-90</text><text x="242.20" y="598.32" font-family='"Liberation Serif", serif' font-size="12.5" text-anchor="end" fill="#333" font-weight="normal" font-style="normal" >-120</text><path d="M246.60,594.1v-3M246.60,479.6v3M288.14,594.1v-3M288.14,479.6v3M329.68,594.1v-3M329.68,479.6v3M371.22,594.1v-3M371.22,479.6v3M412.76,594.1v-3M412.76,479.6v3M454.30,594.1v-3M454.30,479.6v3M495.84,594.1v-3M495.84,479.6v3M537.38,594.1v-3M537.38,479.6v3M578.92,594.1v-3M578.92,479.6v3M620.46,594.1v-3M620.46,479.6v3M662.00,594.1v-3M662.00,479.6v3M246.6,483.37h3M662.0,483.37h-3M246.6,505.50h3M662.0,505.50h-3M246.6,527.63h3M662.0,527.63h-3M246.6,549.76h3M662.0,549.76h-3M246.6,571.89h3M662.0,571.89h-3M246.6,594.02h3M662.0,594.02h-3" stroke="#555" stroke-width="0.9" fill="none"/><text x="462.5" y="632.0" font-family='"Liberation Sans", sans-serif' font-size="15" text-anchor="middle" textLength="118.8" lengthAdjust="spacingAndGlyphs">Frequency <tspan font-style="italic">f</tspan> (kHz)</text><text transform="translate(210.7,543.6) rotate(-90)" font-family='"Liberation Sans", sans-serif' font-size="15" text-anchor="middle" textLength="122.3" lengthAdjust="spacingAndGlyphs">Transmission (dB)</text><line x1="463.5" y1="471.8" x2="491.4" y2="471.8" stroke="#3a83c2" stroke-width="1.3"/><line x1="522.3" y1="471.8" x2="549.0" y2="471.8" stroke="#3bb03b" stroke-width="1.3"/><line x1="579.0" y1="471.8" x2="606.8" y2="471.8" stroke="#dc2430" stroke-width="1.3"/><text x="494.00" y="476.60" font-family='"Liberation Serif", serif' font-size="12.5" text-anchor="start" fill="#222" font-weight="normal" font-style="normal" textLength="25.4" lengthAdjust="spacingAndGlyphs">BCC</text><text x="552.90" y="476.60" font-family='"Liberation Serif", serif' font-size="12.5" text-anchor="start" fill="#222" font-weight="normal" font-style="normal" textLength="23.1" lengthAdjust="spacingAndGlyphs">SCP</text><text x="610.60" y="476.60" font-family='"Liberation Serif", serif' font-size="12.5" text-anchor="start" fill="#222" font-weight="normal" font-style="normal" textLength="51" lengthAdjust="spacingAndGlyphs">TPNH-0.5</text>
</svg>
</body></html>
